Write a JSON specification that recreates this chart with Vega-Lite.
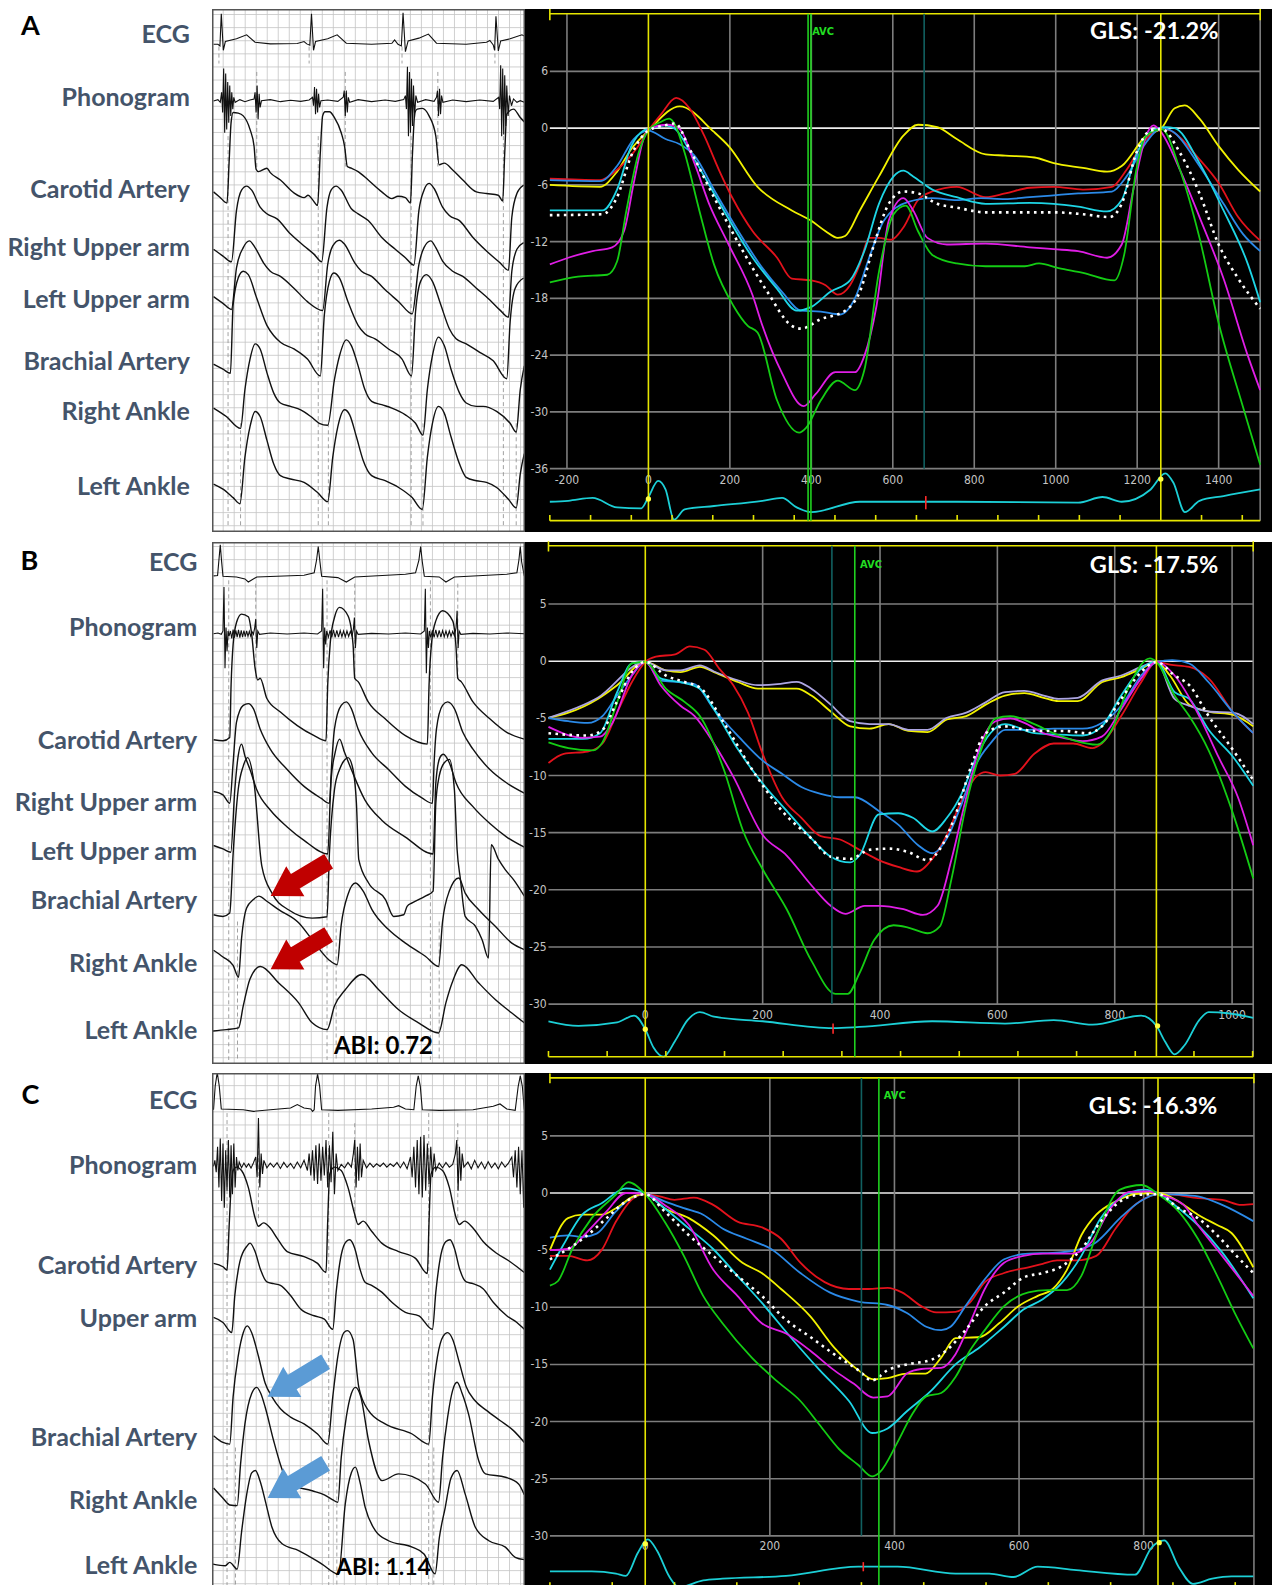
{
"$schema":"https://vega.github.io/schema/vega-lite/v6.json",
"padding":{"top":8,"left":0,"right":0,"bottom":0},
"background":"white",
"config":{"view":{"stroke":null}},
"datasets":{
"s":[
{"p":"A","c":"y","x":-242,"y":-6},{"p":"A","c":"y","x":-119,"y":-6.2},{"p":"A","c":"y","x":-77,"y":-4.6},{"p":"A","c":"y","x":-42,"y":-2.2},{"p":"A","c":"y","x":0,"y":-0.25},{"p":"A","c":"y","x":77,"y":2.3},{"p":"A","c":"y","x":161,"y":-0.4},{"p":"A","c":"y","x":197,"y":-1.9},{"p":"A","c":"y","x":268,"y":-6.2},{"p":"A","c":"y","x":352,"y":-8.7},{"p":"A","c":"y","x":400,"y":-9.8},{"p":"A","c":"y","x":435,"y":-10.9},{"p":"A","c":"y","x":465,"y":-11.6},{"p":"A","c":"y","x":483,"y":-11.4},{"p":"A","c":"y","x":519,"y":-8.7},{"p":"A","c":"y","x":566,"y":-5.1},{"p":"A","c":"y","x":626,"y":-0.8},{"p":"A","c":"y","x":662,"y":0.36},{"p":"A","c":"y","x":709,"y":0.1},{"p":"A","c":"y","x":757,"y":-1.15},{"p":"A","c":"y","x":828,"y":-2.77},{"p":"A","c":"y","x":876,"y":-2.9},{"p":"A","c":"y","x":948,"y":-3.1},{"p":"A","c":"y","x":995,"y":-3.7},{"p":"A","c":"y","x":1067,"y":-4.2},{"p":"A","c":"y","x":1126,"y":-4.6},{"p":"A","c":"y","x":1162,"y":-4},{"p":"A","c":"y","x":1222,"y":-0.8},{"p":"A","c":"y","x":1260,"y":0},{"p":"A","c":"y","x":1292,"y":2.1},{"p":"A","c":"y","x":1317,"y":2.4},{"p":"A","c":"y","x":1353,"y":1},{"p":"A","c":"y","x":1400,"y":-1.9},{"p":"A","c":"y","x":1448,"y":-4.4},{"p":"A","c":"y","x":1502,"y":-6.7},
{"p":"A","c":"r","x":-242,"y":-5.35},{"p":"A","c":"r","x":-119,"y":-5.5},{"p":"A","c":"r","x":-77,"y":-4.4},{"p":"A","c":"r","x":-30,"y":-2.2},{"p":"A","c":"r","x":0,"y":-0.25},{"p":"A","c":"r","x":30,"y":1.4},{"p":"A","c":"r","x":68,"y":3.2},{"p":"A","c":"r","x":101,"y":2.1},{"p":"A","c":"r","x":137,"y":-0.8},{"p":"A","c":"r","x":173,"y":-4.4},{"p":"A","c":"r","x":209,"y":-7.6},{"p":"A","c":"r","x":256,"y":-10.9},{"p":"A","c":"r","x":316,"y":-13.7},{"p":"A","c":"r","x":352,"y":-15.9},{"p":"A","c":"r","x":400,"y":-16.1},{"p":"A","c":"r","x":435,"y":-16.6},{"p":"A","c":"r","x":465,"y":-17.6},{"p":"A","c":"r","x":495,"y":-16.6},{"p":"A","c":"r","x":519,"y":-14.4},{"p":"A","c":"r","x":542,"y":-11.6},{"p":"A","c":"r","x":566,"y":-11.6},{"p":"A","c":"r","x":596,"y":-11.8},{"p":"A","c":"r","x":626,"y":-10.5},{"p":"A","c":"r","x":662,"y":-7.6},{"p":"A","c":"r","x":697,"y":-6.7},{"p":"A","c":"r","x":757,"y":-6.2},{"p":"A","c":"r","x":828,"y":-7.3},{"p":"A","c":"r","x":876,"y":-6.9},{"p":"A","c":"r","x":936,"y":-6.3},{"p":"A","c":"r","x":995,"y":-6.2},{"p":"A","c":"r","x":1067,"y":-6.5},{"p":"A","c":"r","x":1138,"y":-6.2},{"p":"A","c":"r","x":1174,"y":-4.4},{"p":"A","c":"r","x":1222,"y":-1.15},{"p":"A","c":"r","x":1260,"y":0},{"p":"A","c":"r","x":1281,"y":-0.25},{"p":"A","c":"r","x":1353,"y":-3.3},{"p":"A","c":"r","x":1400,"y":-5.8},{"p":"A","c":"r","x":1448,"y":-9.4},{"p":"A","c":"r","x":1502,"y":-11.9},
{"p":"A","c":"b","x":-242,"y":-5.5},{"p":"A","c":"b","x":-119,"y":-5.6},{"p":"A","c":"b","x":-77,"y":-4},{"p":"A","c":"b","x":-36,"y":-1.15},{"p":"A","c":"b","x":0,"y":-0.25},{"p":"A","c":"b","x":42,"y":-1.15},{"p":"A","c":"b","x":77,"y":-1.7},{"p":"A","c":"b","x":113,"y":-2.9},{"p":"A","c":"b","x":161,"y":-6.5},{"p":"A","c":"b","x":221,"y":-10.9},{"p":"A","c":"b","x":280,"y":-14.8},{"p":"A","c":"b","x":328,"y":-17.3},{"p":"A","c":"b","x":375,"y":-19.3},{"p":"A","c":"b","x":423,"y":-19.4},{"p":"A","c":"b","x":471,"y":-19.7},{"p":"A","c":"b","x":507,"y":-18},{"p":"A","c":"b","x":542,"y":-13.7},{"p":"A","c":"b","x":578,"y":-9.8},{"p":"A","c":"b","x":638,"y":-7.8},{"p":"A","c":"b","x":697,"y":-7.4},{"p":"A","c":"b","x":757,"y":-7.6},{"p":"A","c":"b","x":816,"y":-7.4},{"p":"A","c":"b","x":876,"y":-7.5},{"p":"A","c":"b","x":936,"y":-7.3},{"p":"A","c":"b","x":995,"y":-7.1},{"p":"A","c":"b","x":1055,"y":-6.9},{"p":"A","c":"b","x":1138,"y":-6.7},{"p":"A","c":"b","x":1174,"y":-5.1},{"p":"A","c":"b","x":1222,"y":-1.5},{"p":"A","c":"b","x":1260,"y":0},{"p":"A","c":"b","x":1289,"y":-0.4},{"p":"A","c":"b","x":1353,"y":-4},{"p":"A","c":"b","x":1412,"y":-8},{"p":"A","c":"b","x":1460,"y":-11.2},{"p":"A","c":"b","x":1502,"y":-13},
{"p":"A","c":"c","x":-242,"y":-8.7},{"p":"A","c":"c","x":-113,"y":-8.7},{"p":"A","c":"c","x":-77,"y":-6.5},{"p":"A","c":"c","x":-42,"y":-1.9},{"p":"A","c":"c","x":-12,"y":-0.25},{"p":"A","c":"c","x":0,"y":-0.1},{"p":"A","c":"c","x":42,"y":0.3},{"p":"A","c":"c","x":66,"y":-0.1},{"p":"A","c":"c","x":113,"y":-3.3},{"p":"A","c":"c","x":185,"y":-8.7},{"p":"A","c":"c","x":256,"y":-13.7},{"p":"A","c":"c","x":316,"y":-17},{"p":"A","c":"c","x":364,"y":-19.3},{"p":"A","c":"c","x":400,"y":-18.9},{"p":"A","c":"c","x":447,"y":-17.3},{"p":"A","c":"c","x":495,"y":-16.1},{"p":"A","c":"c","x":530,"y":-13},{"p":"A","c":"c","x":566,"y":-8},{"p":"A","c":"c","x":602,"y":-5.1},{"p":"A","c":"c","x":626,"y":-4.5},{"p":"A","c":"c","x":650,"y":-5.1},{"p":"A","c":"c","x":697,"y":-6.5},{"p":"A","c":"c","x":757,"y":-7.3},{"p":"A","c":"c","x":828,"y":-8},{"p":"A","c":"c","x":936,"y":-7.9},{"p":"A","c":"c","x":995,"y":-8},{"p":"A","c":"c","x":1055,"y":-8.3},{"p":"A","c":"c","x":1126,"y":-8.8},{"p":"A","c":"c","x":1162,"y":-7.6},{"p":"A","c":"c","x":1197,"y":-2.9},{"p":"A","c":"c","x":1233,"y":-0.4},{"p":"A","c":"c","x":1269,"y":0.1},{"p":"A","c":"c","x":1292,"y":0},{"p":"A","c":"c","x":1353,"y":-3.7},{"p":"A","c":"c","x":1412,"y":-8.7},{"p":"A","c":"c","x":1472,"y":-14.4},{"p":"A","c":"c","x":1502,"y":-18.4},
{"p":"A","c":"m","x":-242,"y":-14.4},{"p":"A","c":"m","x":-197,"y":-13.7},{"p":"A","c":"m","x":-137,"y":-13},{"p":"A","c":"m","x":-89,"y":-12.6},{"p":"A","c":"m","x":-60,"y":-10.9},{"p":"A","c":"m","x":-36,"y":-5.8},{"p":"A","c":"m","x":-12,"y":-1.15},{"p":"A","c":"m","x":0,"y":-0.1},{"p":"A","c":"m","x":48,"y":0.36},{"p":"A","c":"m","x":77,"y":-0.1},{"p":"A","c":"m","x":113,"y":-3.7},{"p":"A","c":"m","x":149,"y":-8},{"p":"A","c":"m","x":197,"y":-12.3},{"p":"A","c":"m","x":256,"y":-17.7},{"p":"A","c":"m","x":280,"y":-20.9},{"p":"A","c":"m","x":328,"y":-25.9},{"p":"A","c":"m","x":381,"y":-29.4},{"p":"A","c":"m","x":411,"y":-28.1},{"p":"A","c":"m","x":459,"y":-25.8},{"p":"A","c":"m","x":507,"y":-25.8},{"p":"A","c":"m","x":530,"y":-24.1},{"p":"A","c":"m","x":560,"y":-18.8},{"p":"A","c":"m","x":590,"y":-9.8},{"p":"A","c":"m","x":626,"y":-7.4},{"p":"A","c":"m","x":650,"y":-8.7},{"p":"A","c":"m","x":685,"y":-11.6},{"p":"A","c":"m","x":733,"y":-12.3},{"p":"A","c":"m","x":828,"y":-12.2},{"p":"A","c":"m","x":936,"y":-12.6},{"p":"A","c":"m","x":995,"y":-12.8},{"p":"A","c":"m","x":1055,"y":-13},{"p":"A","c":"m","x":1126,"y":-13.7},{"p":"A","c":"m","x":1162,"y":-12.3},{"p":"A","c":"m","x":1192,"y":-6.2},{"p":"A","c":"m","x":1222,"y":-0.8},{"p":"A","c":"m","x":1240,"y":0.3},{"p":"A","c":"m","x":1256,"y":-0.25},{"p":"A","c":"m","x":1305,"y":-4.4},{"p":"A","c":"m","x":1353,"y":-9.4},{"p":"A","c":"m","x":1412,"y":-15.9},{"p":"A","c":"m","x":1472,"y":-24.1},{"p":"A","c":"m","x":1502,"y":-27.7},
{"p":"A","c":"g","x":-242,"y":-16.3},{"p":"A","c":"g","x":-173,"y":-15.7},{"p":"A","c":"g","x":-101,"y":-15.5},{"p":"A","c":"g","x":-77,"y":-14.1},{"p":"A","c":"g","x":-54,"y":-8.7},{"p":"A","c":"g","x":-24,"y":-2.6},{"p":"A","c":"g","x":0,"y":-0.25},{"p":"A","c":"g","x":30,"y":0.65},{"p":"A","c":"g","x":51,"y":1},{"p":"A","c":"g","x":66,"y":0.3},{"p":"A","c":"g","x":89,"y":-2.6},{"p":"A","c":"g","x":125,"y":-8.7},{"p":"A","c":"g","x":161,"y":-14.4},{"p":"A","c":"g","x":209,"y":-18.8},{"p":"A","c":"g","x":244,"y":-20.9},{"p":"A","c":"g","x":268,"y":-21.6},{"p":"A","c":"g","x":316,"y":-28.8},{"p":"A","c":"g","x":370,"y":-32.2},{"p":"A","c":"g","x":387,"y":-31.7},{"p":"A","c":"g","x":423,"y":-28.8},{"p":"A","c":"g","x":465,"y":-26.7},{"p":"A","c":"g","x":507,"y":-27.7},{"p":"A","c":"g","x":530,"y":-25.6},{"p":"A","c":"g","x":566,"y":-15.2},{"p":"A","c":"g","x":602,"y":-9.1},{"p":"A","c":"g","x":632,"y":-8.2},{"p":"A","c":"g","x":662,"y":-10.9},{"p":"A","c":"g","x":697,"y":-13.4},{"p":"A","c":"g","x":757,"y":-14.3},{"p":"A","c":"g","x":828,"y":-14.6},{"p":"A","c":"g","x":924,"y":-14.6},{"p":"A","c":"g","x":959,"y":-14.3},{"p":"A","c":"g","x":1007,"y":-14.8},{"p":"A","c":"g","x":1067,"y":-15.3},{"p":"A","c":"g","x":1144,"y":-16.1},{"p":"A","c":"g","x":1168,"y":-13.4},{"p":"A","c":"g","x":1198,"y":-4.4},{"p":"A","c":"g","x":1222,"y":-0.8},{"p":"A","c":"g","x":1260,"y":-0.1},{"p":"A","c":"g","x":1305,"y":-4.4},{"p":"A","c":"g","x":1353,"y":-11.6},{"p":"A","c":"g","x":1400,"y":-20.6},{"p":"A","c":"g","x":1460,"y":-29.5},{"p":"A","c":"g","x":1502,"y":-35.6},
{"p":"A","c":"w","x":-242,"y":-9.2},{"p":"A","c":"w","x":-113,"y":-9.1},{"p":"A","c":"w","x":-77,"y":-7.3},{"p":"A","c":"w","x":-42,"y":-2.9},{"p":"A","c":"w","x":0,"y":-0.25},{"p":"A","c":"w","x":42,"y":0.3},{"p":"A","c":"w","x":66,"y":0.5},{"p":"A","c":"w","x":101,"y":-2.2},{"p":"A","c":"w","x":161,"y":-7.3},{"p":"A","c":"w","x":232,"y":-13},{"p":"A","c":"w","x":292,"y":-17.3},{"p":"A","c":"w","x":352,"y":-20.9},{"p":"A","c":"w","x":375,"y":-21.2},{"p":"A","c":"w","x":423,"y":-20.2},{"p":"A","c":"w","x":483,"y":-19.3},{"p":"A","c":"w","x":519,"y":-17.3},{"p":"A","c":"w","x":554,"y":-12.3},{"p":"A","c":"w","x":590,"y":-8},{"p":"A","c":"w","x":626,"y":-6.7},{"p":"A","c":"w","x":662,"y":-6.9},{"p":"A","c":"w","x":709,"y":-8},{"p":"A","c":"w","x":757,"y":-8.4},{"p":"A","c":"w","x":828,"y":-8.9},{"p":"A","c":"w","x":924,"y":-8.9},{"p":"A","c":"w","x":995,"y":-8.9},{"p":"A","c":"w","x":1067,"y":-9.1},{"p":"A","c":"w","x":1132,"y":-9.4},{"p":"A","c":"w","x":1162,"y":-8},{"p":"A","c":"w","x":1198,"y":-2.6},{"p":"A","c":"w","x":1233,"y":-0.25},{"p":"A","c":"w","x":1260,"y":-0.1},{"p":"A","c":"w","x":1305,"y":-2.6},{"p":"A","c":"w","x":1353,"y":-6.9},{"p":"A","c":"w","x":1400,"y":-12.3},{"p":"A","c":"w","x":1448,"y":-15.9},{"p":"A","c":"w","x":1502,"y":-19.1},
{"p":"A","c":"e","x":-242,"y":-39.5},{"p":"A","c":"e","x":-197,"y":-39.4},{"p":"A","c":"e","x":-137,"y":-39.1},{"p":"A","c":"e","x":-77,"y":-40.1},{"p":"A","c":"e","x":-18,"y":-40.2},{"p":"A","c":"e","x":0,"y":-39},{"p":"A","c":"e","x":24,"y":-37.3},{"p":"A","c":"e","x":42,"y":-38.2},{"p":"A","c":"e","x":63,"y":-41.4},{"p":"A","c":"e","x":89,"y":-40.3},{"p":"A","c":"e","x":161,"y":-39.95},{"p":"A","c":"e","x":280,"y":-39.4},{"p":"A","c":"e","x":328,"y":-39.1},{"p":"A","c":"e","x":364,"y":-40.1},{"p":"A","c":"e","x":400,"y":-40.6},{"p":"A","c":"e","x":519,"y":-39.5},{"p":"A","c":"e","x":757,"y":-39.5},{"p":"A","c":"e","x":1055,"y":-39.6},{"p":"A","c":"e","x":1115,"y":-39},{"p":"A","c":"e","x":1162,"y":-39.5},{"p":"A","c":"e","x":1233,"y":-38.2},{"p":"A","c":"e","x":1269,"y":-36.5},{"p":"A","c":"e","x":1289,"y":-37.5},{"p":"A","c":"e","x":1317,"y":-40.6},{"p":"A","c":"e","x":1353,"y":-39.4},{"p":"A","c":"e","x":1412,"y":-38.9},{"p":"A","c":"e","x":1502,"y":-38.2},
{"p":"B","c":"y","x":-165,"y":-4.95},{"p":"B","c":"y","x":-131,"y":-4.5},{"p":"B","c":"y","x":-81,"y":-3.3},{"p":"B","c":"y","x":-48,"y":-2.1},{"p":"B","c":"y","x":0,"y":-0.06},{"p":"B","c":"y","x":35,"y":-0.8},{"p":"B","c":"y","x":60,"y":-0.95},{"p":"B","c":"y","x":93,"y":-0.5},{"p":"B","c":"y","x":117,"y":-0.95},{"p":"B","c":"y","x":159,"y":-1.84},{"p":"B","c":"y","x":192,"y":-2.4},{"p":"B","c":"y","x":225,"y":-2.4},{"p":"B","c":"y","x":258,"y":-2.4},{"p":"B","c":"y","x":283,"y":-3},{"p":"B","c":"y","x":316,"y":-4.4},{"p":"B","c":"y","x":349,"y":-5.7},{"p":"B","c":"y","x":382,"y":-5.9},{"p":"B","c":"y","x":415,"y":-5.5},{"p":"B","c":"y","x":448,"y":-6.1},{"p":"B","c":"y","x":481,"y":-6.2},{"p":"B","c":"y","x":514,"y":-5.1},{"p":"B","c":"y","x":547,"y":-4.8},{"p":"B","c":"y","x":580,"y":-3.8},{"p":"B","c":"y","x":613,"y":-3},{"p":"B","c":"y","x":646,"y":-2.8},{"p":"B","c":"y","x":679,"y":-3.2},{"p":"B","c":"y","x":704,"y":-3.5},{"p":"B","c":"y","x":737,"y":-3.5},{"p":"B","c":"y","x":778,"y":-1.84},{"p":"B","c":"y","x":811,"y":-1.4},{"p":"B","c":"y","x":845,"y":-0.65},{"p":"B","c":"y","x":871,"y":-0.06},{"p":"B","c":"y","x":894,"y":-1.25},{"p":"B","c":"y","x":927,"y":-3.8},{"p":"B","c":"y","x":960,"y":-4.4},{"p":"B","c":"y","x":1002,"y":-4.7},{"p":"B","c":"y","x":1036,"y":-5.7},
{"p":"B","c":"l","x":-165,"y":-4.95},{"p":"B","c":"l","x":-81,"y":-3.2},{"p":"B","c":"l","x":0,"y":-0.06},{"p":"B","c":"l","x":35,"y":-0.8},{"p":"B","c":"l","x":60,"y":-0.8},{"p":"B","c":"l","x":93,"y":-0.36},{"p":"B","c":"l","x":117,"y":-0.9},{"p":"B","c":"l","x":159,"y":-1.7},{"p":"B","c":"l","x":192,"y":-2.1},{"p":"B","c":"l","x":225,"y":-2},{"p":"B","c":"l","x":258,"y":-1.8},{"p":"B","c":"l","x":283,"y":-2.4},{"p":"B","c":"l","x":316,"y":-3.8},{"p":"B","c":"l","x":349,"y":-5.25},{"p":"B","c":"l","x":382,"y":-5.5},{"p":"B","c":"l","x":415,"y":-5.5},{"p":"B","c":"l","x":448,"y":-6},{"p":"B","c":"l","x":481,"y":-6},{"p":"B","c":"l","x":514,"y":-4.95},{"p":"B","c":"l","x":547,"y":-4.5},{"p":"B","c":"l","x":580,"y":-3.6},{"p":"B","c":"l","x":613,"y":-2.7},{"p":"B","c":"l","x":646,"y":-2.6},{"p":"B","c":"l","x":679,"y":-3},{"p":"B","c":"l","x":704,"y":-3.3},{"p":"B","c":"l","x":737,"y":-3.2},{"p":"B","c":"l","x":778,"y":-1.7},{"p":"B","c":"l","x":811,"y":-1.25},{"p":"B","c":"l","x":845,"y":-0.5},{"p":"B","c":"l","x":871,"y":-0.06},{"p":"B","c":"l","x":902,"y":-3.3},{"p":"B","c":"l","x":927,"y":-3.9},{"p":"B","c":"l","x":960,"y":-4.4},{"p":"B","c":"l","x":1002,"y":-4.5},{"p":"B","c":"l","x":1036,"y":-5.5},
{"p":"B","c":"r","x":-165,"y":-8.9},{"p":"B","c":"r","x":-139,"y":-8.1},{"p":"B","c":"r","x":-98,"y":-7.9},{"p":"B","c":"r","x":-73,"y":-7.2},{"p":"B","c":"r","x":-48,"y":-4.5},{"p":"B","c":"r","x":-23,"y":-1.84},{"p":"B","c":"r","x":0,"y":-0.06},{"p":"B","c":"r","x":18,"y":0.4},{"p":"B","c":"r","x":51,"y":0.6},{"p":"B","c":"r","x":76,"y":1.3},{"p":"B","c":"r","x":101,"y":1},{"p":"B","c":"r","x":126,"y":-0.65},{"p":"B","c":"r","x":150,"y":-2.1},{"p":"B","c":"r","x":175,"y":-4.5},{"p":"B","c":"r","x":200,"y":-8.1},{"p":"B","c":"r","x":233,"y":-11.9},{"p":"B","c":"r","x":266,"y":-13.7},{"p":"B","c":"r","x":299,"y":-15.3},{"p":"B","c":"r","x":332,"y":-15.6},{"p":"B","c":"r","x":365,"y":-16.5},{"p":"B","c":"r","x":398,"y":-17.4},{"p":"B","c":"r","x":431,"y":-18},{"p":"B","c":"r","x":463,"y":-18.4},{"p":"B","c":"r","x":489,"y":-17.3},{"p":"B","c":"r","x":514,"y":-15.2},{"p":"B","c":"r","x":539,"y":-12.2},{"p":"B","c":"r","x":564,"y":-10.1},{"p":"B","c":"r","x":580,"y":-9.7},{"p":"B","c":"r","x":605,"y":-10},{"p":"B","c":"r","x":630,"y":-9.85},{"p":"B","c":"r","x":663,"y":-8.1},{"p":"B","c":"r","x":696,"y":-7.2},{"p":"B","c":"r","x":729,"y":-7.2},{"p":"B","c":"r","x":762,"y":-7.6},{"p":"B","c":"r","x":778,"y":-7.2},{"p":"B","c":"r","x":811,"y":-4.8},{"p":"B","c":"r","x":845,"y":-1.84},{"p":"B","c":"r","x":871,"y":-0.06},{"p":"B","c":"r","x":894,"y":-0.3},{"p":"B","c":"r","x":927,"y":-0.5},{"p":"B","c":"r","x":960,"y":-1.5},{"p":"B","c":"r","x":1002,"y":-4.5},{"p":"B","c":"r","x":1036,"y":-6.3},
{"p":"B","c":"b","x":-165,"y":-4.95},{"p":"B","c":"b","x":-131,"y":-5.25},{"p":"B","c":"b","x":-98,"y":-5.4},{"p":"B","c":"b","x":-73,"y":-4.8},{"p":"B","c":"b","x":-48,"y":-3},{"p":"B","c":"b","x":-23,"y":-1.25},{"p":"B","c":"b","x":0,"y":-0.06},{"p":"B","c":"b","x":26,"y":-1.7},{"p":"B","c":"b","x":60,"y":-1.84},{"p":"B","c":"b","x":84,"y":-2},{"p":"B","c":"b","x":117,"y":-4.2},{"p":"B","c":"b","x":159,"y":-6.6},{"p":"B","c":"b","x":200,"y":-8.7},{"p":"B","c":"b","x":233,"y":-9.85},{"p":"B","c":"b","x":266,"y":-11},{"p":"B","c":"b","x":299,"y":-11.6},{"p":"B","c":"b","x":332,"y":-11.9},{"p":"B","c":"b","x":357,"y":-11.9},{"p":"B","c":"b","x":398,"y":-13.1},{"p":"B","c":"b","x":431,"y":-14.3},{"p":"B","c":"b","x":465,"y":-16.1},{"p":"B","c":"b","x":489,"y":-16.8},{"p":"B","c":"b","x":514,"y":-15.5},{"p":"B","c":"b","x":539,"y":-12.5},{"p":"B","c":"b","x":564,"y":-9},{"p":"B","c":"b","x":588,"y":-7.2},{"p":"B","c":"b","x":613,"y":-6},{"p":"B","c":"b","x":654,"y":-6},{"p":"B","c":"b","x":696,"y":-5.9},{"p":"B","c":"b","x":745,"y":-5.9},{"p":"B","c":"b","x":778,"y":-5.4},{"p":"B","c":"b","x":811,"y":-3.9},{"p":"B","c":"b","x":845,"y":-1.25},{"p":"B","c":"b","x":871,"y":-0.1},{"p":"B","c":"b","x":898,"y":0.1},{"p":"B","c":"b","x":927,"y":-0.2},{"p":"B","c":"b","x":960,"y":-1.84},{"p":"B","c":"b","x":1002,"y":-4.5},{"p":"B","c":"b","x":1036,"y":-6.3},
{"p":"B","c":"c","x":-165,"y":-6.8},{"p":"B","c":"c","x":-106,"y":-6.8},{"p":"B","c":"c","x":-77,"y":-6.3},{"p":"B","c":"c","x":-48,"y":-2.7},{"p":"B","c":"c","x":-23,"y":-0.2},{"p":"B","c":"c","x":0,"y":-0.06},{"p":"B","c":"c","x":26,"y":-1.5},{"p":"B","c":"c","x":60,"y":-1.84},{"p":"B","c":"c","x":93,"y":-2.4},{"p":"B","c":"c","x":117,"y":-4.2},{"p":"B","c":"c","x":159,"y":-7.8},{"p":"B","c":"c","x":200,"y":-10.7},{"p":"B","c":"c","x":241,"y":-13.1},{"p":"B","c":"c","x":283,"y":-15.5},{"p":"B","c":"c","x":316,"y":-17.1},{"p":"B","c":"c","x":349,"y":-17.6},{"p":"B","c":"c","x":365,"y":-17},{"p":"B","c":"c","x":398,"y":-13.4},{"p":"B","c":"c","x":431,"y":-13.3},{"p":"B","c":"c","x":456,"y":-13.7},{"p":"B","c":"c","x":489,"y":-14.9},{"p":"B","c":"c","x":514,"y":-13.7},{"p":"B","c":"c","x":539,"y":-11.6},{"p":"B","c":"c","x":564,"y":-8.4},{"p":"B","c":"c","x":588,"y":-6.3},{"p":"B","c":"c","x":613,"y":-5.5},{"p":"B","c":"c","x":663,"y":-6.3},{"p":"B","c":"c","x":696,"y":-6.4},{"p":"B","c":"c","x":745,"y":-6.5},{"p":"B","c":"c","x":778,"y":-5.7},{"p":"B","c":"c","x":811,"y":-3},{"p":"B","c":"c","x":845,"y":-0.65},{"p":"B","c":"c","x":871,"y":-0.06},{"p":"B","c":"c","x":902,"y":-2.7},{"p":"B","c":"c","x":927,"y":-3.3},{"p":"B","c":"c","x":960,"y":-6},{"p":"B","c":"c","x":1002,"y":-8.4},{"p":"B","c":"c","x":1036,"y":-10.9},
{"p":"B","c":"m","x":-165,"y":-5.75},{"p":"B","c":"m","x":-106,"y":-6.7},{"p":"B","c":"m","x":-77,"y":-6.6},{"p":"B","c":"m","x":-56,"y":-5.4},{"p":"B","c":"m","x":-23,"y":-1.25},{"p":"B","c":"m","x":0,"y":-0.06},{"p":"B","c":"m","x":26,"y":-2.1},{"p":"B","c":"m","x":60,"y":-3.9},{"p":"B","c":"m","x":84,"y":-4.8},{"p":"B","c":"m","x":117,"y":-7.2},{"p":"B","c":"m","x":150,"y":-10.1},{"p":"B","c":"m","x":200,"y":-15.2},{"p":"B","c":"m","x":241,"y":-17},{"p":"B","c":"m","x":283,"y":-19.6},{"p":"B","c":"m","x":316,"y":-21.4},{"p":"B","c":"m","x":341,"y":-22.1},{"p":"B","c":"m","x":374,"y":-21.4},{"p":"B","c":"m","x":398,"y":-21.4},{"p":"B","c":"m","x":440,"y":-21.7},{"p":"B","c":"m","x":473,"y":-22.2},{"p":"B","c":"m","x":498,"y":-21.4},{"p":"B","c":"m","x":522,"y":-17.3},{"p":"B","c":"m","x":547,"y":-11.9},{"p":"B","c":"m","x":572,"y":-7.2},{"p":"B","c":"m","x":597,"y":-5.25},{"p":"B","c":"m","x":622,"y":-5},{"p":"B","c":"m","x":646,"y":-5.4},{"p":"B","c":"m","x":679,"y":-6.3},{"p":"B","c":"m","x":712,"y":-6.7},{"p":"B","c":"m","x":745,"y":-7},{"p":"B","c":"m","x":778,"y":-6.6},{"p":"B","c":"m","x":811,"y":-4.2},{"p":"B","c":"m","x":845,"y":-1.5},{"p":"B","c":"m","x":871,"y":-0.06},{"p":"B","c":"m","x":902,"y":-1.25},{"p":"B","c":"m","x":944,"y":-4.8},{"p":"B","c":"m","x":977,"y":-8.4},{"p":"B","c":"m","x":1010,"y":-11.9},{"p":"B","c":"m","x":1036,"y":-16.1},
{"p":"B","c":"g","x":-165,"y":-7.1},{"p":"B","c":"g","x":-131,"y":-7.6},{"p":"B","c":"g","x":-89,"y":-7.8},{"p":"B","c":"g","x":-73,"y":-7.1},{"p":"B","c":"g","x":-48,"y":-3.6},{"p":"B","c":"g","x":-23,"y":-0.2},{"p":"B","c":"g","x":0,"y":-0.06},{"p":"B","c":"g","x":35,"y":-2.4},{"p":"B","c":"g","x":68,"y":-3.6},{"p":"B","c":"g","x":93,"y":-4.8},{"p":"B","c":"g","x":134,"y":-9.5},{"p":"B","c":"g","x":167,"y":-14.9},{"p":"B","c":"g","x":200,"y":-18.2},{"p":"B","c":"g","x":241,"y":-21.7},{"p":"B","c":"g","x":283,"y":-26.2},{"p":"B","c":"g","x":324,"y":-29.1},{"p":"B","c":"g","x":345,"y":-29.1},{"p":"B","c":"g","x":365,"y":-27.3},{"p":"B","c":"g","x":390,"y":-24.4},{"p":"B","c":"g","x":423,"y":-23.1},{"p":"B","c":"g","x":448,"y":-23.3},{"p":"B","c":"g","x":481,"y":-23.8},{"p":"B","c":"g","x":502,"y":-23.2},{"p":"B","c":"g","x":522,"y":-19},{"p":"B","c":"g","x":547,"y":-12.5},{"p":"B","c":"g","x":572,"y":-7.8},{"p":"B","c":"g","x":597,"y":-5},{"p":"B","c":"g","x":622,"y":-4.8},{"p":"B","c":"g","x":663,"y":-5.5},{"p":"B","c":"g","x":696,"y":-6.3},{"p":"B","c":"g","x":729,"y":-6.9},{"p":"B","c":"g","x":770,"y":-7.3},{"p":"B","c":"g","x":795,"y":-6},{"p":"B","c":"g","x":820,"y":-2.7},{"p":"B","c":"g","x":860,"y":0.24},{"p":"B","c":"g","x":871,"y":-0.06},{"p":"B","c":"g","x":902,"y":-3},{"p":"B","c":"g","x":927,"y":-4.8},{"p":"B","c":"g","x":960,"y":-7.8},{"p":"B","c":"g","x":1002,"y":-13.4},{"p":"B","c":"g","x":1036,"y":-19},
{"p":"B","c":"w","x":-165,"y":-6.3},{"p":"B","c":"w","x":-98,"y":-6.5},{"p":"B","c":"w","x":-73,"y":-6},{"p":"B","c":"w","x":-48,"y":-3.5},{"p":"B","c":"w","x":-23,"y":-0.95},{"p":"B","c":"w","x":0,"y":-0.06},{"p":"B","c":"w","x":35,"y":-1.25},{"p":"B","c":"w","x":68,"y":-1.84},{"p":"B","c":"w","x":93,"y":-2.3},{"p":"B","c":"w","x":134,"y":-5.4},{"p":"B","c":"w","x":183,"y":-9.55},{"p":"B","c":"w","x":233,"y":-13.1},{"p":"B","c":"w","x":283,"y":-15.5},{"p":"B","c":"w","x":316,"y":-17.1},{"p":"B","c":"w","x":349,"y":-17.3},{"p":"B","c":"w","x":382,"y":-16.5},{"p":"B","c":"w","x":415,"y":-16.4},{"p":"B","c":"w","x":448,"y":-16.7},{"p":"B","c":"w","x":481,"y":-17.4},{"p":"B","c":"w","x":506,"y":-16.1},{"p":"B","c":"w","x":531,"y":-13.1},{"p":"B","c":"w","x":555,"y":-9.25},{"p":"B","c":"w","x":580,"y":-6.3},{"p":"B","c":"w","x":613,"y":-5.7},{"p":"B","c":"w","x":663,"y":-6.1},{"p":"B","c":"w","x":712,"y":-6.1},{"p":"B","c":"w","x":754,"y":-6.3},{"p":"B","c":"w","x":778,"y":-5.7},{"p":"B","c":"w","x":811,"y":-3.3},{"p":"B","c":"w","x":845,"y":-0.95},{"p":"B","c":"w","x":871,"y":-0.06},{"p":"B","c":"w","x":902,"y":-1.25},{"p":"B","c":"w","x":927,"y":-2.1},{"p":"B","c":"w","x":960,"y":-4.8},{"p":"B","c":"w","x":1002,"y":-7.8},{"p":"B","c":"w","x":1036,"y":-10.4},
{"p":"B","c":"e","x":-165,"y":-31.5},{"p":"B","c":"e","x":-114,"y":-31.9},{"p":"B","c":"e","x":-48,"y":-31.6},{"p":"B","c":"e","x":-19,"y":-31},{"p":"B","c":"e","x":0,"y":-32.2},{"p":"B","c":"e","x":14,"y":-33.8},{"p":"B","c":"e","x":31,"y":-34.6},{"p":"B","c":"e","x":51,"y":-33.2},{"p":"B","c":"e","x":72,"y":-31.4},{"p":"B","c":"e","x":93,"y":-30.7},{"p":"B","c":"e","x":117,"y":-31.1},{"p":"B","c":"e","x":200,"y":-31.5},{"p":"B","c":"e","x":320,"y":-32.1},{"p":"B","c":"e","x":365,"y":-32},{"p":"B","c":"e","x":489,"y":-31.5},{"p":"B","c":"e","x":613,"y":-31.7},{"p":"B","c":"e","x":696,"y":-31.4},{"p":"B","c":"e","x":762,"y":-31.8},{"p":"B","c":"e","x":845,"y":-31},{"p":"B","c":"e","x":871,"y":-31.9},{"p":"B","c":"e","x":886,"y":-33.3},{"p":"B","c":"e","x":902,"y":-34.4},{"p":"B","c":"e","x":919,"y":-33.6},{"p":"B","c":"e","x":944,"y":-31.4},{"p":"B","c":"e","x":960,"y":-30.7},{"p":"B","c":"e","x":993,"y":-30.8},{"p":"B","c":"e","x":1036,"y":-31.2},
{"p":"C","c":"r","x":-153,"y":-5.5},{"p":"C","c":"r","x":-124,"y":-5.5},{"p":"C","c":"r","x":-93,"y":-5.9},{"p":"C","c":"r","x":-70,"y":-5},{"p":"C","c":"r","x":-47,"y":-2.5},{"p":"C","c":"r","x":-19,"y":-0.45},{"p":"C","c":"r","x":0,"y":-0.1},{"p":"C","c":"r","x":23,"y":-0.3},{"p":"C","c":"r","x":47,"y":-0.6},{"p":"C","c":"r","x":78,"y":-0.4},{"p":"C","c":"r","x":109,"y":-1.04},{"p":"C","c":"r","x":148,"y":-2.5},{"p":"C","c":"r","x":187,"y":-3},{"p":"C","c":"r","x":218,"y":-4},{"p":"C","c":"r","x":249,"y":-6.1},{"p":"C","c":"r","x":288,"y":-7.8},{"p":"C","c":"r","x":327,"y":-8.4},{"p":"C","c":"r","x":358,"y":-8.4},{"p":"C","c":"r","x":389,"y":-8.3},{"p":"C","c":"r","x":412,"y":-8.7},{"p":"C","c":"r","x":443,"y":-9.9},{"p":"C","c":"r","x":467,"y":-10.45},{"p":"C","c":"r","x":498,"y":-10.4},{"p":"C","c":"r","x":521,"y":-9.6},{"p":"C","c":"r","x":545,"y":-7.8},{"p":"C","c":"r","x":576,"y":-7},{"p":"C","c":"r","x":615,"y":-6.5},{"p":"C","c":"r","x":638,"y":-6.2},{"p":"C","c":"r","x":661,"y":-5.9},{"p":"C","c":"r","x":692,"y":-5.9},{"p":"C","c":"r","x":724,"y":-5.5},{"p":"C","c":"r","x":755,"y":-3.1},{"p":"C","c":"r","x":786,"y":-1.04},{"p":"C","c":"r","x":809,"y":-0.3},{"p":"C","c":"r","x":823,"y":-0.1},{"p":"C","c":"r","x":848,"y":-0.15},{"p":"C","c":"r","x":887,"y":-0.45},{"p":"C","c":"r","x":926,"y":-0.6},{"p":"C","c":"r","x":957,"y":-1.04},{"p":"C","c":"r","x":976,"y":-0.98},
{"p":"C","c":"b","x":-153,"y":-3.9},{"p":"C","c":"b","x":-124,"y":-3.7},{"p":"C","c":"b","x":-101,"y":-3.85},{"p":"C","c":"b","x":-78,"y":-3.55},{"p":"C","c":"b","x":-47,"y":-1.6},{"p":"C","c":"b","x":-23,"y":-0.45},{"p":"C","c":"b","x":0,"y":-0.1},{"p":"C","c":"b","x":31,"y":-0.74},{"p":"C","c":"b","x":62,"y":-1.33},{"p":"C","c":"b","x":93,"y":-1.9},{"p":"C","c":"b","x":124,"y":-3.1},{"p":"C","c":"b","x":163,"y":-4},{"p":"C","c":"b","x":202,"y":-4.9},{"p":"C","c":"b","x":249,"y":-7},{"p":"C","c":"b","x":296,"y":-8.7},{"p":"C","c":"b","x":342,"y":-9.5},{"p":"C","c":"b","x":389,"y":-9.8},{"p":"C","c":"b","x":420,"y":-10.5},{"p":"C","c":"b","x":451,"y":-11.7},{"p":"C","c":"b","x":475,"y":-12},{"p":"C","c":"b","x":490,"y":-11.7},{"p":"C","c":"b","x":514,"y":-9.9},{"p":"C","c":"b","x":545,"y":-7.55},{"p":"C","c":"b","x":576,"y":-5.8},{"p":"C","c":"b","x":615,"y":-5.3},{"p":"C","c":"b","x":654,"y":-5.24},{"p":"C","c":"b","x":692,"y":-5},{"p":"C","c":"b","x":724,"y":-4.3},{"p":"C","c":"b","x":762,"y":-2.2},{"p":"C","c":"b","x":794,"y":-0.74},{"p":"C","c":"b","x":823,"y":-0.1},{"p":"C","c":"b","x":856,"y":-0.15},{"p":"C","c":"b","x":887,"y":-0.3},{"p":"C","c":"b","x":926,"y":-1.04},{"p":"C","c":"b","x":976,"y":-2.46},
{"p":"C","c":"y","x":-153,"y":-5},{"p":"C","c":"y","x":-124,"y":-2.2},{"p":"C","c":"y","x":-101,"y":-1.9},{"p":"C","c":"y","x":-70,"y":-1.9},{"p":"C","c":"y","x":-47,"y":-1.33},{"p":"C","c":"y","x":-19,"y":-0.3},{"p":"C","c":"y","x":0,"y":-0.1},{"p":"C","c":"y","x":31,"y":-1.33},{"p":"C","c":"y","x":70,"y":-2.2},{"p":"C","c":"y","x":109,"y":-3.7},{"p":"C","c":"y","x":156,"y":-6.1},{"p":"C","c":"y","x":187,"y":-7},{"p":"C","c":"y","x":218,"y":-8.4},{"p":"C","c":"y","x":265,"y":-10.8},{"p":"C","c":"y","x":303,"y":-13.5},{"p":"C","c":"y","x":342,"y":-15.5},{"p":"C","c":"y","x":366,"y":-16.3},{"p":"C","c":"y","x":389,"y":-16.2},{"p":"C","c":"y","x":420,"y":-15.8},{"p":"C","c":"y","x":450,"y":-15.8},{"p":"C","c":"y","x":475,"y":-14.4},{"p":"C","c":"y","x":498,"y":-12.7},{"p":"C","c":"y","x":537,"y":-12.6},{"p":"C","c":"y","x":568,"y":-11.4},{"p":"C","c":"y","x":599,"y":-9.9},{"p":"C","c":"y","x":630,"y":-9},{"p":"C","c":"y","x":654,"y":-8.4},{"p":"C","c":"y","x":677,"y":-6.7},{"p":"C","c":"y","x":700,"y":-3.7},{"p":"C","c":"y","x":724,"y":-1.9},{"p":"C","c":"y","x":755,"y":-0.74},{"p":"C","c":"y","x":786,"y":-0.1},{"p":"C","c":"y","x":823,"y":0},{"p":"C","c":"y","x":856,"y":-0.74},{"p":"C","c":"y","x":887,"y":-1.9},{"p":"C","c":"y","x":918,"y":-2.8},{"p":"C","c":"y","x":941,"y":-3.5},{"p":"C","c":"y","x":976,"y":-6.5},
{"p":"C","c":"c","x":-153,"y":-6.7},{"p":"C","c":"c","x":-132,"y":-4.6},{"p":"C","c":"c","x":-101,"y":-1.9},{"p":"C","c":"c","x":-70,"y":-0.9},{"p":"C","c":"c","x":-31,"y":0.4},{"p":"C","c":"c","x":0,"y":-0.05},{"p":"C","c":"c","x":31,"y":-1.33},{"p":"C","c":"c","x":70,"y":-3.1},{"p":"C","c":"c","x":109,"y":-4.9},{"p":"C","c":"c","x":148,"y":-7.25},{"p":"C","c":"c","x":187,"y":-9.6},{"p":"C","c":"c","x":233,"y":-12.6},{"p":"C","c":"c","x":280,"y":-15.5},{"p":"C","c":"c","x":327,"y":-18.2},{"p":"C","c":"c","x":364,"y":-21},{"p":"C","c":"c","x":389,"y":-20.6},{"p":"C","c":"c","x":420,"y":-19.1},{"p":"C","c":"c","x":459,"y":-17.3},{"p":"C","c":"c","x":498,"y":-15},{"p":"C","c":"c","x":537,"y":-13.5},{"p":"C","c":"c","x":576,"y":-11.7},{"p":"C","c":"c","x":607,"y":-10.2},{"p":"C","c":"c","x":638,"y":-9.3},{"p":"C","c":"c","x":669,"y":-7.85},{"p":"C","c":"c","x":700,"y":-5.5},{"p":"C","c":"c","x":731,"y":-2.2},{"p":"C","c":"c","x":762,"y":-0.45},{"p":"C","c":"c","x":801,"y":0.3},{"p":"C","c":"c","x":823,"y":0},{"p":"C","c":"c","x":856,"y":-1.33},{"p":"C","c":"c","x":887,"y":-2.8},{"p":"C","c":"c","x":926,"y":-5.2},{"p":"C","c":"c","x":976,"y":-9.2},
{"p":"C","c":"m","x":-153,"y":-5},{"p":"C","c":"m","x":-124,"y":-4.9},{"p":"C","c":"m","x":-93,"y":-3.4},{"p":"C","c":"m","x":-62,"y":-1.6},{"p":"C","c":"m","x":-31,"y":0},{"p":"C","c":"m","x":0,"y":-0.1},{"p":"C","c":"m","x":31,"y":-1.04},{"p":"C","c":"m","x":70,"y":-2.8},{"p":"C","c":"m","x":109,"y":-6.7},{"p":"C","c":"m","x":148,"y":-9},{"p":"C","c":"m","x":187,"y":-11.4},{"p":"C","c":"m","x":226,"y":-12.3},{"p":"C","c":"m","x":265,"y":-13.8},{"p":"C","c":"m","x":303,"y":-15.5},{"p":"C","c":"m","x":335,"y":-16.7},{"p":"C","c":"m","x":366,"y":-17.9},{"p":"C","c":"m","x":389,"y":-17.8},{"p":"C","c":"m","x":420,"y":-15.8},{"p":"C","c":"m","x":443,"y":-15.4},{"p":"C","c":"m","x":475,"y":-15.3},{"p":"C","c":"m","x":498,"y":-14.1},{"p":"C","c":"m","x":521,"y":-11.4},{"p":"C","c":"m","x":545,"y":-8.4},{"p":"C","c":"m","x":576,"y":-6.1},{"p":"C","c":"m","x":607,"y":-5.5},{"p":"C","c":"m","x":638,"y":-5.3},{"p":"C","c":"m","x":685,"y":-5.3},{"p":"C","c":"m","x":716,"y":-4.3},{"p":"C","c":"m","x":747,"y":-1.33},{"p":"C","c":"m","x":778,"y":0.1},{"p":"C","c":"m","x":809,"y":0.15},{"p":"C","c":"m","x":823,"y":-0.1},{"p":"C","c":"m","x":864,"y":-1.04},{"p":"C","c":"m","x":887,"y":-2.8},{"p":"C","c":"m","x":926,"y":-5.5},{"p":"C","c":"m","x":976,"y":-9},
{"p":"C","c":"g","x":-153,"y":-8.1},{"p":"C","c":"g","x":-140,"y":-7.7},{"p":"C","c":"g","x":-117,"y":-4.9},{"p":"C","c":"g","x":-86,"y":-2.2},{"p":"C","c":"g","x":-47,"y":-0.15},{"p":"C","c":"g","x":-27,"y":0.95},{"p":"C","c":"g","x":0,"y":-0.1},{"p":"C","c":"g","x":31,"y":-2.5},{"p":"C","c":"g","x":62,"y":-5.5},{"p":"C","c":"g","x":93,"y":-9},{"p":"C","c":"g","x":124,"y":-11.4},{"p":"C","c":"g","x":171,"y":-14.4},{"p":"C","c":"g","x":210,"y":-16.4},{"p":"C","c":"g","x":249,"y":-18.2},{"p":"C","c":"g","x":280,"y":-20.3},{"p":"C","c":"g","x":311,"y":-22.4},{"p":"C","c":"g","x":342,"y":-23.8},{"p":"C","c":"g","x":364,"y":-24.8},{"p":"C","c":"g","x":377,"y":-24.4},{"p":"C","c":"g","x":405,"y":-21.8},{"p":"C","c":"g","x":428,"y":-19.4},{"p":"C","c":"g","x":451,"y":-17.8},{"p":"C","c":"g","x":475,"y":-17.5},{"p":"C","c":"g","x":498,"y":-16.1},{"p":"C","c":"g","x":521,"y":-13.8},{"p":"C","c":"g","x":545,"y":-12},{"p":"C","c":"g","x":576,"y":-9.9},{"p":"C","c":"g","x":615,"y":-8.7},{"p":"C","c":"g","x":646,"y":-8.5},{"p":"C","c":"g","x":677,"y":-8.5},{"p":"C","c":"g","x":700,"y":-7.25},{"p":"C","c":"g","x":724,"y":-3.7},{"p":"C","c":"g","x":762,"y":0.3},{"p":"C","c":"g","x":797,"y":0.7},{"p":"C","c":"g","x":823,"y":-0.1},{"p":"C","c":"g","x":856,"y":-1.6},{"p":"C","c":"g","x":887,"y":-4},{"p":"C","c":"g","x":918,"y":-7.25},{"p":"C","c":"g","x":949,"y":-10.8},{"p":"C","c":"g","x":976,"y":-13.6},
{"p":"C","c":"w","x":-153,"y":-5.8},{"p":"C","c":"w","x":-124,"y":-4.9},{"p":"C","c":"w","x":-93,"y":-3.7},{"p":"C","c":"w","x":-62,"y":-2.2},{"p":"C","c":"w","x":-31,"y":-0.74},{"p":"C","c":"w","x":0,"y":-0.1},{"p":"C","c":"w","x":31,"y":-1.6},{"p":"C","c":"w","x":70,"y":-3.7},{"p":"C","c":"w","x":109,"y":-5.5},{"p":"C","c":"w","x":148,"y":-7.25},{"p":"C","c":"w","x":187,"y":-9},{"p":"C","c":"w","x":226,"y":-11.1},{"p":"C","c":"w","x":265,"y":-12.6},{"p":"C","c":"w","x":303,"y":-14.1},{"p":"C","c":"w","x":342,"y":-15.5},{"p":"C","c":"w","x":364,"y":-16.4},{"p":"C","c":"w","x":389,"y":-15.5},{"p":"C","c":"w","x":420,"y":-15},{"p":"C","c":"w","x":459,"y":-14.6},{"p":"C","c":"w","x":483,"y":-13.8},{"p":"C","c":"w","x":514,"y":-12},{"p":"C","c":"w","x":545,"y":-9.9},{"p":"C","c":"w","x":576,"y":-8.7},{"p":"C","c":"w","x":607,"y":-7.4},{"p":"C","c":"w","x":638,"y":-7},{"p":"C","c":"w","x":669,"y":-6.4},{"p":"C","c":"w","x":700,"y":-4.9},{"p":"C","c":"w","x":731,"y":-2.5},{"p":"C","c":"w","x":762,"y":-0.74},{"p":"C","c":"w","x":794,"y":-0.15},{"p":"C","c":"w","x":823,"y":-0.1},{"p":"C","c":"w","x":856,"y":-1.33},{"p":"C","c":"w","x":887,"y":-2.2},{"p":"C","c":"w","x":918,"y":-3.7},{"p":"C","c":"w","x":949,"y":-5.5},{"p":"C","c":"w","x":976,"y":-7},
{"p":"C","c":"e","x":-153,"y":-33.1},{"p":"C","c":"e","x":-86,"y":-33.1},{"p":"C","c":"e","x":-47,"y":-33.3},{"p":"C","c":"e","x":-31,"y":-33.5},{"p":"C","c":"e","x":-12,"y":-31.5},{"p":"C","c":"e","x":4,"y":-30.3},{"p":"C","c":"e","x":19,"y":-31.3},{"p":"C","c":"e","x":39,"y":-33.6},{"p":"C","c":"e","x":54,"y":-34.5},{"p":"C","c":"e","x":93,"y":-33.9},{"p":"C","c":"e","x":124,"y":-33.75},{"p":"C","c":"e","x":226,"y":-33.5},{"p":"C","c":"e","x":342,"y":-32.7},{"p":"C","c":"e","x":405,"y":-32.7},{"p":"C","c":"e","x":498,"y":-33.3},{"p":"C","c":"e","x":552,"y":-33.3},{"p":"C","c":"e","x":591,"y":-33.6},{"p":"C","c":"e","x":630,"y":-32.7},{"p":"C","c":"e","x":692,"y":-33},{"p":"C","c":"e","x":786,"y":-33.4},{"p":"C","c":"e","x":813,"y":-31},{"p":"C","c":"e","x":833,"y":-30.4},{"p":"C","c":"e","x":856,"y":-32.7},{"p":"C","c":"e","x":879,"y":-34.2},{"p":"C","c":"e","x":910,"y":-33.75},{"p":"C","c":"e","x":941,"y":-33.55},{"p":"C","c":"e","x":976,"y":-33.55}
],
"w":[
{"p":"A","c":"e","x":632,"y":128},{"p":"A","c":"e","x":645,"y":128},{"p":"A","c":"e","x":651,"y":133},{"p":"A","c":"e","x":655,"y":38},{"p":"A","c":"e","x":661,"y":146},{"p":"A","c":"e","x":667,"y":120},{"p":"A","c":"e","x":700,"y":112},{"p":"A","c":"e","x":730,"y":100},{"p":"A","c":"e","x":755,"y":122},{"p":"A","c":"e","x":800,"y":127},{"p":"A","c":"e","x":880,"y":126},{"p":"A","c":"e","x":900,"y":120},{"p":"A","c":"e","x":908,"y":127},{"p":"A","c":"e","x":917,"y":131},{"p":"A","c":"e","x":922,"y":38},{"p":"A","c":"e","x":928,"y":146},{"p":"A","c":"e","x":934,"y":120},{"p":"A","c":"e","x":970,"y":112},{"p":"A","c":"e","x":998,"y":100},{"p":"A","c":"e","x":1025,"y":125},{"p":"A","c":"e","x":1100,"y":128},{"p":"A","c":"e","x":1160,"y":125},{"p":"A","c":"e","x":1168,"y":115},{"p":"A","c":"e","x":1178,"y":128},{"p":"A","c":"e","x":1188,"y":133},{"p":"A","c":"e","x":1193,"y":35},{"p":"A","c":"e","x":1200,"y":150},{"p":"A","c":"e","x":1208,"y":118},{"p":"A","c":"e","x":1240,"y":110},{"p":"A","c":"e","x":1268,"y":98},{"p":"A","c":"e","x":1292,"y":125},{"p":"A","c":"e","x":1380,"y":128},{"p":"A","c":"e","x":1440,"y":122},{"p":"A","c":"e","x":1450,"y":117},{"p":"A","c":"e","x":1460,"y":130},{"p":"A","c":"e","x":1464,"y":146},{"p":"A","c":"e","x":1468,"y":45},{"p":"A","c":"e","x":1475,"y":148},{"p":"A","c":"e","x":1482,"y":118},{"p":"A","c":"e","x":1510,"y":112},{"p":"A","c":"e","x":1545,"y":100},{"p":"A","c":"e","x":1552,"y":104},
{"p":"A","c":"ph","x":632,"y":296},{"p":"A","c":"ph","x":645,"y":292},{"p":"A","c":"ph","x":652,"y":300},{"p":"A","c":"ph","x":656,"y":270},{"p":"A","c":"ph","x":659,"y":330},{"p":"A","c":"ph","x":662,"y":200},{"p":"A","c":"ph","x":665,"y":390},{"p":"A","c":"ph","x":668,"y":215},{"p":"A","c":"ph","x":671,"y":380},{"p":"A","c":"ph","x":674,"y":240},{"p":"A","c":"ph","x":677,"y":360},{"p":"A","c":"ph","x":680,"y":250},{"p":"A","c":"ph","x":683,"y":340},{"p":"A","c":"ph","x":686,"y":270},{"p":"A","c":"ph","x":689,"y":320},{"p":"A","c":"ph","x":692,"y":285},{"p":"A","c":"ph","x":696,"y":300},{"p":"A","c":"ph","x":710,"y":292},{"p":"A","c":"ph","x":725,"y":298},{"p":"A","c":"ph","x":740,"y":293},{"p":"A","c":"ph","x":752,"y":290},{"p":"A","c":"ph","x":755,"y":270},{"p":"A","c":"ph","x":758,"y":330},{"p":"A","c":"ph","x":761,"y":250},{"p":"A","c":"ph","x":764,"y":350},{"p":"A","c":"ph","x":767,"y":275},{"p":"A","c":"ph","x":770,"y":315},{"p":"A","c":"ph","x":774,"y":295},{"p":"A","c":"ph","x":800,"y":292},{"p":"A","c":"ph","x":830,"y":298},{"p":"A","c":"ph","x":860,"y":294},{"p":"A","c":"ph","x":890,"y":297},{"p":"A","c":"ph","x":915,"y":293},{"p":"A","c":"ph","x":925,"y":285},{"p":"A","c":"ph","x":928,"y":310},{"p":"A","c":"ph","x":931,"y":255},{"p":"A","c":"ph","x":934,"y":335},{"p":"A","c":"ph","x":937,"y":260},{"p":"A","c":"ph","x":940,"y":330},{"p":"A","c":"ph","x":943,"y":275},{"p":"A","c":"ph","x":946,"y":315},{"p":"A","c":"ph","x":950,"y":295},{"p":"A","c":"ph","x":970,"y":293},{"p":"A","c":"ph","x":1000,"y":297},{"p":"A","c":"ph","x":1016,"y":285},{"p":"A","c":"ph","x":1019,"y":265},{"p":"A","c":"ph","x":1022,"y":340},{"p":"A","c":"ph","x":1025,"y":265},{"p":"A","c":"ph","x":1028,"y":330},{"p":"A","c":"ph","x":1031,"y":285},{"p":"A","c":"ph","x":1035,"y":300},{"p":"A","c":"ph","x":1060,"y":292},{"p":"A","c":"ph","x":1100,"y":298},{"p":"A","c":"ph","x":1140,"y":293},{"p":"A","c":"ph","x":1170,"y":297},{"p":"A","c":"ph","x":1195,"y":292},{"p":"A","c":"ph","x":1200,"y":280},{"p":"A","c":"ph","x":1203,"y":320},{"p":"A","c":"ph","x":1206,"y":195},{"p":"A","c":"ph","x":1209,"y":400},{"p":"A","c":"ph","x":1212,"y":210},{"p":"A","c":"ph","x":1215,"y":390},{"p":"A","c":"ph","x":1218,"y":230},{"p":"A","c":"ph","x":1221,"y":370},{"p":"A","c":"ph","x":1224,"y":250},{"p":"A","c":"ph","x":1227,"y":345},{"p":"A","c":"ph","x":1231,"y":280},{"p":"A","c":"ph","x":1236,"y":300},{"p":"A","c":"ph","x":1260,"y":292},{"p":"A","c":"ph","x":1285,"y":297},{"p":"A","c":"ph","x":1292,"y":285},{"p":"A","c":"ph","x":1295,"y":265},{"p":"A","c":"ph","x":1298,"y":340},{"p":"A","c":"ph","x":1301,"y":260},{"p":"A","c":"ph","x":1304,"y":335},{"p":"A","c":"ph","x":1307,"y":280},{"p":"A","c":"ph","x":1311,"y":300},{"p":"A","c":"ph","x":1340,"y":293},{"p":"A","c":"ph","x":1380,"y":298},{"p":"A","c":"ph","x":1420,"y":293},{"p":"A","c":"ph","x":1460,"y":297},{"p":"A","c":"ph","x":1476,"y":285},{"p":"A","c":"ph","x":1479,"y":320},{"p":"A","c":"ph","x":1482,"y":190},{"p":"A","c":"ph","x":1485,"y":400},{"p":"A","c":"ph","x":1488,"y":200},{"p":"A","c":"ph","x":1491,"y":395},{"p":"A","c":"ph","x":1494,"y":220},{"p":"A","c":"ph","x":1497,"y":370},{"p":"A","c":"ph","x":1500,"y":250},{"p":"A","c":"ph","x":1504,"y":340},{"p":"A","c":"ph","x":1508,"y":280},{"p":"A","c":"ph","x":1514,"y":310},{"p":"A","c":"ph","x":1520,"y":290},{"p":"A","c":"ph","x":1530,"y":300},{"p":"A","c":"ph","x":1540,"y":295},{"p":"A","c":"ph","x":1552,"y":300},
{"p":"A","c":"ca","x":632,"y":565},{"p":"A","c":"ca","x":650,"y":580},{"p":"A","c":"ca","x":672,"y":598},{"p":"A","c":"ca","x":678,"y":480},{"p":"A","c":"ca","x":684,"y":360},{"p":"A","c":"ca","x":690,"y":330},{"p":"A","c":"ca","x":705,"y":332},{"p":"A","c":"ca","x":720,"y":340},{"p":"A","c":"ca","x":740,"y":380},{"p":"A","c":"ca","x":752,"y":430},{"p":"A","c":"ca","x":758,"y":498},{"p":"A","c":"ca","x":765,"y":505},{"p":"A","c":"ca","x":790,"y":495},{"p":"A","c":"ca","x":800,"y":508},{"p":"A","c":"ca","x":830,"y":530},{"p":"A","c":"ca","x":870,"y":568},{"p":"A","c":"ca","x":900,"y":582},{"p":"A","c":"ca","x":912,"y":575},{"p":"A","c":"ca","x":925,"y":588},{"p":"A","c":"ca","x":940,"y":605},{"p":"A","c":"ca","x":948,"y":450},{"p":"A","c":"ca","x":955,"y":340},{"p":"A","c":"ca","x":962,"y":328},{"p":"A","c":"ca","x":975,"y":328},{"p":"A","c":"ca","x":990,"y":345},{"p":"A","c":"ca","x":1010,"y":390},{"p":"A","c":"ca","x":1020,"y":430},{"p":"A","c":"ca","x":1028,"y":490},{"p":"A","c":"ca","x":1040,"y":495},{"p":"A","c":"ca","x":1060,"y":505},{"p":"A","c":"ca","x":1090,"y":530},{"p":"A","c":"ca","x":1130,"y":565},{"p":"A","c":"ca","x":1160,"y":585},{"p":"A","c":"ca","x":1178,"y":578},{"p":"A","c":"ca","x":1200,"y":582},{"p":"A","c":"ca","x":1215,"y":598},{"p":"A","c":"ca","x":1221,"y":450},{"p":"A","c":"ca","x":1228,"y":330},{"p":"A","c":"ca","x":1235,"y":320},{"p":"A","c":"ca","x":1250,"y":318},{"p":"A","c":"ca","x":1270,"y":340},{"p":"A","c":"ca","x":1290,"y":400},{"p":"A","c":"ca","x":1300,"y":485},{"p":"A","c":"ca","x":1315,"y":480},{"p":"A","c":"ca","x":1340,"y":500},{"p":"A","c":"ca","x":1370,"y":530},{"p":"A","c":"ca","x":1410,"y":565},{"p":"A","c":"ca","x":1440,"y":570},{"p":"A","c":"ca","x":1475,"y":575},{"p":"A","c":"ca","x":1488,"y":592},{"p":"A","c":"ca","x":1494,"y":450},{"p":"A","c":"ca","x":1500,"y":335},{"p":"A","c":"ca","x":1520,"y":320},{"p":"A","c":"ca","x":1540,"y":345},{"p":"A","c":"ca","x":1552,"y":358},
{"p":"A","c":"ru","x":632,"y":735},{"p":"A","c":"ru","x":660,"y":755},{"p":"A","c":"ru","x":685,"y":772},{"p":"A","c":"ru","x":700,"y":620},{"p":"A","c":"ru","x":715,"y":560},{"p":"A","c":"ru","x":730,"y":548},{"p":"A","c":"ru","x":745,"y":560},{"p":"A","c":"ru","x":770,"y":610},{"p":"A","c":"ru","x":790,"y":630},{"p":"A","c":"ru","x":820,"y":645},{"p":"A","c":"ru","x":860,"y":690},{"p":"A","c":"ru","x":900,"y":725},{"p":"A","c":"ru","x":930,"y":750},{"p":"A","c":"ru","x":952,"y":772},{"p":"A","c":"ru","x":968,"y":610},{"p":"A","c":"ru","x":980,"y":560},{"p":"A","c":"ru","x":995,"y":548},{"p":"A","c":"ru","x":1010,"y":560},{"p":"A","c":"ru","x":1040,"y":615},{"p":"A","c":"ru","x":1060,"y":630},{"p":"A","c":"ru","x":1090,"y":650},{"p":"A","c":"ru","x":1130,"y":700},{"p":"A","c":"ru","x":1170,"y":735},{"p":"A","c":"ru","x":1200,"y":760},{"p":"A","c":"ru","x":1225,"y":782},{"p":"A","c":"ru","x":1240,"y":620},{"p":"A","c":"ru","x":1255,"y":560},{"p":"A","c":"ru","x":1270,"y":540},{"p":"A","c":"ru","x":1285,"y":555},{"p":"A","c":"ru","x":1310,"y":610},{"p":"A","c":"ru","x":1330,"y":635},{"p":"A","c":"ru","x":1360,"y":650},{"p":"A","c":"ru","x":1400,"y":700},{"p":"A","c":"ru","x":1440,"y":740},{"p":"A","c":"ru","x":1480,"y":775},{"p":"A","c":"ru","x":1505,"y":797},{"p":"A","c":"ru","x":1515,"y":640},{"p":"A","c":"ru","x":1530,"y":570},{"p":"A","c":"ru","x":1550,"y":545},
{"p":"A","c":"lu","x":632,"y":875},{"p":"A","c":"lu","x":660,"y":895},{"p":"A","c":"lu","x":685,"y":913},{"p":"A","c":"lu","x":700,"y":790},{"p":"A","c":"lu","x":720,"y":730},{"p":"A","c":"lu","x":738,"y":710},{"p":"A","c":"lu","x":755,"y":730},{"p":"A","c":"lu","x":780,"y":775},{"p":"A","c":"lu","x":800,"y":800},{"p":"A","c":"lu","x":830,"y":815},{"p":"A","c":"lu","x":870,"y":850},{"p":"A","c":"lu","x":910,"y":890},{"p":"A","c":"lu","x":955,"y":916},{"p":"A","c":"lu","x":970,"y":780},{"p":"A","c":"lu","x":985,"y":725},{"p":"A","c":"lu","x":1005,"y":708},{"p":"A","c":"lu","x":1020,"y":720},{"p":"A","c":"lu","x":1050,"y":775},{"p":"A","c":"lu","x":1070,"y":800},{"p":"A","c":"lu","x":1100,"y":815},{"p":"A","c":"lu","x":1140,"y":855},{"p":"A","c":"lu","x":1180,"y":890},{"p":"A","c":"lu","x":1220,"y":926},{"p":"A","c":"lu","x":1240,"y":780},{"p":"A","c":"lu","x":1255,"y":730},{"p":"A","c":"lu","x":1275,"y":710},{"p":"A","c":"lu","x":1290,"y":730},{"p":"A","c":"lu","x":1310,"y":770},{"p":"A","c":"lu","x":1340,"y":800},{"p":"A","c":"lu","x":1370,"y":815},{"p":"A","c":"lu","x":1410,"y":850},{"p":"A","c":"lu","x":1450,"y":885},{"p":"A","c":"lu","x":1480,"y":915},{"p":"A","c":"lu","x":1505,"y":936},{"p":"A","c":"lu","x":1515,"y":800},{"p":"A","c":"lu","x":1530,"y":735},{"p":"A","c":"lu","x":1550,"y":715},
{"p":"A","c":"br","x":632,"y":1075},{"p":"A","c":"br","x":660,"y":1090},{"p":"A","c":"br","x":682,"y":1102},{"p":"A","c":"br","x":690,"y":900},{"p":"A","c":"br","x":705,"y":820},{"p":"A","c":"br","x":720,"y":800},{"p":"A","c":"br","x":735,"y":810},{"p":"A","c":"br","x":760,"y":880},{"p":"A","c":"br","x":790,"y":960},{"p":"A","c":"br","x":810,"y":990},{"p":"A","c":"br","x":830,"y":1010},{"p":"A","c":"br","x":870,"y":1030},{"p":"A","c":"br","x":910,"y":1060},{"p":"A","c":"br","x":948,"y":1110},{"p":"A","c":"br","x":960,"y":930},{"p":"A","c":"br","x":975,"y":830},{"p":"A","c":"br","x":988,"y":805},{"p":"A","c":"br","x":1005,"y":820},{"p":"A","c":"br","x":1030,"y":890},{"p":"A","c":"br","x":1060,"y":960},{"p":"A","c":"br","x":1080,"y":985},{"p":"A","c":"br","x":1110,"y":1000},{"p":"A","c":"br","x":1150,"y":1030},{"p":"A","c":"br","x":1190,"y":1060},{"p":"A","c":"br","x":1218,"y":1110},{"p":"A","c":"br","x":1230,"y":920},{"p":"A","c":"br","x":1245,"y":830},{"p":"A","c":"br","x":1262,"y":810},{"p":"A","c":"br","x":1280,"y":830},{"p":"A","c":"br","x":1305,"y":900},{"p":"A","c":"br","x":1330,"y":970},{"p":"A","c":"br","x":1350,"y":1000},{"p":"A","c":"br","x":1380,"y":1015},{"p":"A","c":"br","x":1420,"y":1040},{"p":"A","c":"br","x":1460,"y":1065},{"p":"A","c":"br","x":1500,"y":1118},{"p":"A","c":"br","x":1510,"y":950},{"p":"A","c":"br","x":1525,"y":850},{"p":"A","c":"br","x":1550,"y":820},
{"p":"A","c":"ra","x":632,"y":1205},{"p":"A","c":"ra","x":670,"y":1230},{"p":"A","c":"ra","x":712,"y":1265},{"p":"A","c":"ra","x":725,"y":1150},{"p":"A","c":"ra","x":740,"y":1060},{"p":"A","c":"ra","x":755,"y":1015},{"p":"A","c":"ra","x":770,"y":1030},{"p":"A","c":"ra","x":790,"y":1100},{"p":"A","c":"ra","x":810,"y":1160},{"p":"A","c":"ra","x":830,"y":1190},{"p":"A","c":"ra","x":860,"y":1200},{"p":"A","c":"ra","x":890,"y":1210},{"p":"A","c":"ra","x":920,"y":1230},{"p":"A","c":"ra","x":945,"y":1250},{"p":"A","c":"ra","x":970,"y":1256},{"p":"A","c":"ra","x":990,"y":1120},{"p":"A","c":"ra","x":1005,"y":1050},{"p":"A","c":"ra","x":1025,"y":1003},{"p":"A","c":"ra","x":1040,"y":1020},{"p":"A","c":"ra","x":1060,"y":1080},{"p":"A","c":"ra","x":1080,"y":1150},{"p":"A","c":"ra","x":1100,"y":1185},{"p":"A","c":"ra","x":1130,"y":1195},{"p":"A","c":"ra","x":1160,"y":1205},{"p":"A","c":"ra","x":1200,"y":1225},{"p":"A","c":"ra","x":1230,"y":1250},{"p":"A","c":"ra","x":1252,"y":1285},{"p":"A","c":"ra","x":1265,"y":1150},{"p":"A","c":"ra","x":1280,"y":1050},{"p":"A","c":"ra","x":1298,"y":995},{"p":"A","c":"ra","x":1315,"y":1020},{"p":"A","c":"ra","x":1335,"y":1090},{"p":"A","c":"ra","x":1360,"y":1160},{"p":"A","c":"ra","x":1380,"y":1190},{"p":"A","c":"ra","x":1410,"y":1200},{"p":"A","c":"ra","x":1430,"y":1200},{"p":"A","c":"ra","x":1470,"y":1215},{"p":"A","c":"ra","x":1510,"y":1250},{"p":"A","c":"ra","x":1528,"y":1276},{"p":"A","c":"ra","x":1540,"y":1150},{"p":"A","c":"ra","x":1552,"y":1080},
{"p":"A","c":"la","x":632,"y":1430},{"p":"A","c":"la","x":660,"y":1445},{"p":"A","c":"la","x":690,"y":1470},{"p":"A","c":"la","x":710,"y":1488},{"p":"A","c":"la","x":725,"y":1350},{"p":"A","c":"la","x":740,"y":1260},{"p":"A","c":"la","x":755,"y":1215},{"p":"A","c":"la","x":770,"y":1230},{"p":"A","c":"la","x":790,"y":1300},{"p":"A","c":"la","x":810,"y":1370},{"p":"A","c":"la","x":830,"y":1405},{"p":"A","c":"la","x":860,"y":1415},{"p":"A","c":"la","x":900,"y":1425},{"p":"A","c":"la","x":940,"y":1455},{"p":"A","c":"la","x":970,"y":1482},{"p":"A","c":"la","x":985,"y":1350},{"p":"A","c":"la","x":1000,"y":1260},{"p":"A","c":"la","x":1020,"y":1210},{"p":"A","c":"la","x":1035,"y":1225},{"p":"A","c":"la","x":1055,"y":1290},{"p":"A","c":"la","x":1075,"y":1360},{"p":"A","c":"la","x":1100,"y":1405},{"p":"A","c":"la","x":1140,"y":1420},{"p":"A","c":"la","x":1180,"y":1440},{"p":"A","c":"la","x":1220,"y":1470},{"p":"A","c":"la","x":1250,"y":1505},{"p":"A","c":"la","x":1265,"y":1350},{"p":"A","c":"la","x":1280,"y":1250},{"p":"A","c":"la","x":1298,"y":1200},{"p":"A","c":"la","x":1315,"y":1220},{"p":"A","c":"la","x":1335,"y":1290},{"p":"A","c":"la","x":1360,"y":1370},{"p":"A","c":"la","x":1380,"y":1410},{"p":"A","c":"la","x":1410,"y":1420},{"p":"A","c":"la","x":1440,"y":1425},{"p":"A","c":"la","x":1470,"y":1440},{"p":"A","c":"la","x":1505,"y":1475},{"p":"A","c":"la","x":1528,"y":1500},{"p":"A","c":"la","x":1540,"y":1400},{"p":"A","c":"la","x":1552,"y":1340},
{"p":"B","c":"e","x":632,"y":127},{"p":"B","c":"e","x":644,"y":126},{"p":"B","c":"e","x":648,"y":80},{"p":"B","c":"e","x":652,"y":35},{"p":"B","c":"e","x":656,"y":85},{"p":"B","c":"e","x":660,"y":128},{"p":"B","c":"e","x":700,"y":130},{"p":"B","c":"e","x":725,"y":136},{"p":"B","c":"e","x":735,"y":145},{"p":"B","c":"e","x":760,"y":130},{"p":"B","c":"e","x":900,"y":125},{"p":"B","c":"e","x":930,"y":118},{"p":"B","c":"e","x":937,"y":80},{"p":"B","c":"e","x":942,"y":40},{"p":"B","c":"e","x":947,"y":85},{"p":"B","c":"e","x":952,"y":128},{"p":"B","c":"e","x":1000,"y":132},{"p":"B","c":"e","x":1025,"y":145},{"p":"B","c":"e","x":1050,"y":130},{"p":"B","c":"e","x":1200,"y":122},{"p":"B","c":"e","x":1230,"y":118},{"p":"B","c":"e","x":1240,"y":80},{"p":"B","c":"e","x":1245,"y":40},{"p":"B","c":"e","x":1250,"y":85},{"p":"B","c":"e","x":1256,"y":128},{"p":"B","c":"e","x":1300,"y":130},{"p":"B","c":"e","x":1320,"y":145},{"p":"B","c":"e","x":1345,"y":130},{"p":"B","c":"e","x":1500,"y":122},{"p":"B","c":"e","x":1530,"y":118},{"p":"B","c":"e","x":1536,"y":80},{"p":"B","c":"e","x":1540,"y":40},{"p":"B","c":"e","x":1544,"y":85},{"p":"B","c":"e","x":1552,"y":128},
{"p":"B","c":"ph","x":632,"y":298},{"p":"B","c":"ph","x":645,"y":296},{"p":"B","c":"ph","x":655,"y":300},{"p":"B","c":"ph","x":660,"y":290},{"p":"B","c":"ph","x":663,"y":160},{"p":"B","c":"ph","x":666,"y":400},{"p":"B","c":"ph","x":669,"y":280},{"p":"B","c":"ph","x":672,"y":350},{"p":"B","c":"ph","x":675,"y":290},{"p":"B","c":"ph","x":678,"y":305},{"p":"B","c":"ph","x":682,"y":290},{"p":"B","c":"ph","x":686,"y":312},{"p":"B","c":"ph","x":690,"y":286},{"p":"B","c":"ph","x":694,"y":310},{"p":"B","c":"ph","x":698,"y":288},{"p":"B","c":"ph","x":702,"y":308},{"p":"B","c":"ph","x":706,"y":287},{"p":"B","c":"ph","x":710,"y":310},{"p":"B","c":"ph","x":714,"y":288},{"p":"B","c":"ph","x":718,"y":308},{"p":"B","c":"ph","x":722,"y":289},{"p":"B","c":"ph","x":726,"y":307},{"p":"B","c":"ph","x":730,"y":290},{"p":"B","c":"ph","x":734,"y":306},{"p":"B","c":"ph","x":738,"y":291},{"p":"B","c":"ph","x":742,"y":305},{"p":"B","c":"ph","x":746,"y":292},{"p":"B","c":"ph","x":750,"y":300},{"p":"B","c":"ph","x":754,"y":280},{"p":"B","c":"ph","x":757,"y":255},{"p":"B","c":"ph","x":760,"y":340},{"p":"B","c":"ph","x":763,"y":290},{"p":"B","c":"ph","x":768,"y":300},{"p":"B","c":"ph","x":800,"y":296},{"p":"B","c":"ph","x":850,"y":299},{"p":"B","c":"ph","x":900,"y":296},{"p":"B","c":"ph","x":940,"y":299},{"p":"B","c":"ph","x":952,"y":290},{"p":"B","c":"ph","x":955,"y":165},{"p":"B","c":"ph","x":958,"y":400},{"p":"B","c":"ph","x":961,"y":280},{"p":"B","c":"ph","x":964,"y":330},{"p":"B","c":"ph","x":967,"y":290},{"p":"B","c":"ph","x":972,"y":308},{"p":"B","c":"ph","x":977,"y":288},{"p":"B","c":"ph","x":982,"y":309},{"p":"B","c":"ph","x":987,"y":287},{"p":"B","c":"ph","x":992,"y":309},{"p":"B","c":"ph","x":997,"y":288},{"p":"B","c":"ph","x":1002,"y":308},{"p":"B","c":"ph","x":1007,"y":289},{"p":"B","c":"ph","x":1012,"y":307},{"p":"B","c":"ph","x":1017,"y":290},{"p":"B","c":"ph","x":1022,"y":307},{"p":"B","c":"ph","x":1027,"y":290},{"p":"B","c":"ph","x":1032,"y":306},{"p":"B","c":"ph","x":1037,"y":291},{"p":"B","c":"ph","x":1042,"y":305},{"p":"B","c":"ph","x":1046,"y":285},{"p":"B","c":"ph","x":1049,"y":250},{"p":"B","c":"ph","x":1052,"y":340},{"p":"B","c":"ph","x":1055,"y":290},{"p":"B","c":"ph","x":1060,"y":300},{"p":"B","c":"ph","x":1100,"y":297},{"p":"B","c":"ph","x":1150,"y":299},{"p":"B","c":"ph","x":1200,"y":296},{"p":"B","c":"ph","x":1245,"y":299},{"p":"B","c":"ph","x":1256,"y":290},{"p":"B","c":"ph","x":1259,"y":165},{"p":"B","c":"ph","x":1262,"y":415},{"p":"B","c":"ph","x":1265,"y":280},{"p":"B","c":"ph","x":1268,"y":340},{"p":"B","c":"ph","x":1271,"y":290},{"p":"B","c":"ph","x":1275,"y":309},{"p":"B","c":"ph","x":1280,"y":288},{"p":"B","c":"ph","x":1285,"y":309},{"p":"B","c":"ph","x":1290,"y":287},{"p":"B","c":"ph","x":1295,"y":309},{"p":"B","c":"ph","x":1300,"y":288},{"p":"B","c":"ph","x":1305,"y":308},{"p":"B","c":"ph","x":1310,"y":289},{"p":"B","c":"ph","x":1315,"y":307},{"p":"B","c":"ph","x":1320,"y":290},{"p":"B","c":"ph","x":1325,"y":307},{"p":"B","c":"ph","x":1330,"y":290},{"p":"B","c":"ph","x":1335,"y":306},{"p":"B","c":"ph","x":1340,"y":291},{"p":"B","c":"ph","x":1345,"y":304},{"p":"B","c":"ph","x":1350,"y":280},{"p":"B","c":"ph","x":1353,"y":230},{"p":"B","c":"ph","x":1356,"y":340},{"p":"B","c":"ph","x":1359,"y":290},{"p":"B","c":"ph","x":1364,"y":300},{"p":"B","c":"ph","x":1400,"y":297},{"p":"B","c":"ph","x":1450,"y":299},{"p":"B","c":"ph","x":1500,"y":296},{"p":"B","c":"ph","x":1552,"y":298},
{"p":"B","c":"ca","x":632,"y":612},{"p":"B","c":"ca","x":660,"y":615},{"p":"B","c":"ca","x":680,"y":605},{"p":"B","c":"ca","x":684,"y":450},{"p":"B","c":"ca","x":690,"y":330},{"p":"B","c":"ca","x":700,"y":265},{"p":"B","c":"ca","x":715,"y":240},{"p":"B","c":"ca","x":735,"y":248},{"p":"B","c":"ca","x":745,"y":300},{"p":"B","c":"ca","x":755,"y":400},{"p":"B","c":"ca","x":763,"y":435},{"p":"B","c":"ca","x":770,"y":430},{"p":"B","c":"ca","x":790,"y":490},{"p":"B","c":"ca","x":830,"y":530},{"p":"B","c":"ca","x":880,"y":570},{"p":"B","c":"ca","x":930,"y":600},{"p":"B","c":"ca","x":965,"y":615},{"p":"B","c":"ca","x":970,"y":450},{"p":"B","c":"ca","x":978,"y":320},{"p":"B","c":"ca","x":990,"y":250},{"p":"B","c":"ca","x":1005,"y":220},{"p":"B","c":"ca","x":1030,"y":245},{"p":"B","c":"ca","x":1045,"y":330},{"p":"B","c":"ca","x":1050,"y":430},{"p":"B","c":"ca","x":1060,"y":440},{"p":"B","c":"ca","x":1090,"y":500},{"p":"B","c":"ca","x":1140,"y":550},{"p":"B","c":"ca","x":1200,"y":600},{"p":"B","c":"ca","x":1265,"y":625},{"p":"B","c":"ca","x":1270,"y":450},{"p":"B","c":"ca","x":1278,"y":320},{"p":"B","c":"ca","x":1290,"y":260},{"p":"B","c":"ca","x":1310,"y":230},{"p":"B","c":"ca","x":1340,"y":260},{"p":"B","c":"ca","x":1350,"y":340},{"p":"B","c":"ca","x":1355,"y":430},{"p":"B","c":"ca","x":1365,"y":440},{"p":"B","c":"ca","x":1400,"y":500},{"p":"B","c":"ca","x":1450,"y":550},{"p":"B","c":"ca","x":1500,"y":590},{"p":"B","c":"ca","x":1552,"y":610},
{"p":"B","c":"ru","x":632,"y":765},{"p":"B","c":"ru","x":660,"y":775},{"p":"B","c":"ru","x":680,"y":800},{"p":"B","c":"ru","x":690,"y":680},{"p":"B","c":"ru","x":700,"y":560},{"p":"B","c":"ru","x":720,"y":510},{"p":"B","c":"ru","x":735,"y":505},{"p":"B","c":"ru","x":750,"y":520},{"p":"B","c":"ru","x":770,"y":580},{"p":"B","c":"ru","x":800,"y":640},{"p":"B","c":"ru","x":850,"y":700},{"p":"B","c":"ru","x":900,"y":750},{"p":"B","c":"ru","x":950,"y":785},{"p":"B","c":"ru","x":975,"y":800},{"p":"B","c":"ru","x":982,"y":680},{"p":"B","c":"ru","x":990,"y":580},{"p":"B","c":"ru","x":1010,"y":510},{"p":"B","c":"ru","x":1025,"y":500},{"p":"B","c":"ru","x":1040,"y":520},{"p":"B","c":"ru","x":1060,"y":580},{"p":"B","c":"ru","x":1100,"y":650},{"p":"B","c":"ru","x":1150,"y":700},{"p":"B","c":"ru","x":1200,"y":750},{"p":"B","c":"ru","x":1250,"y":785},{"p":"B","c":"ru","x":1280,"y":800},{"p":"B","c":"ru","x":1285,"y":680},{"p":"B","c":"ru","x":1292,"y":580},{"p":"B","c":"ru","x":1310,"y":510},{"p":"B","c":"ru","x":1325,"y":500},{"p":"B","c":"ru","x":1345,"y":520},{"p":"B","c":"ru","x":1370,"y":590},{"p":"B","c":"ru","x":1400,"y":640},{"p":"B","c":"ru","x":1450,"y":700},{"p":"B","c":"ru","x":1500,"y":740},{"p":"B","c":"ru","x":1552,"y":770},
{"p":"B","c":"lu","x":632,"y":925},{"p":"B","c":"lu","x":660,"y":935},{"p":"B","c":"lu","x":683,"y":945},{"p":"B","c":"lu","x":695,"y":760},{"p":"B","c":"lu","x":705,"y":660},{"p":"B","c":"lu","x":715,"y":625},{"p":"B","c":"lu","x":725,"y":660},{"p":"B","c":"lu","x":740,"y":700},{"p":"B","c":"lu","x":760,"y":760},{"p":"B","c":"lu","x":800,"y":820},{"p":"B","c":"lu","x":850,"y":870},{"p":"B","c":"lu","x":900,"y":910},{"p":"B","c":"lu","x":970,"y":950},{"p":"B","c":"lu","x":980,"y":730},{"p":"B","c":"lu","x":992,"y":650},{"p":"B","c":"lu","x":1005,"y":610},{"p":"B","c":"lu","x":1020,"y":650},{"p":"B","c":"lu","x":1040,"y":700},{"p":"B","c":"lu","x":1080,"y":790},{"p":"B","c":"lu","x":1130,"y":850},{"p":"B","c":"lu","x":1200,"y":900},{"p":"B","c":"lu","x":1282,"y":950},{"p":"B","c":"lu","x":1290,"y":740},{"p":"B","c":"lu","x":1302,"y":665},{"p":"B","c":"lu","x":1312,"y":655},{"p":"B","c":"lu","x":1330,"y":680},{"p":"B","c":"lu","x":1350,"y":740},{"p":"B","c":"lu","x":1400,"y":810},{"p":"B","c":"lu","x":1450,"y":860},{"p":"B","c":"lu","x":1500,"y":900},{"p":"B","c":"lu","x":1552,"y":930},
{"p":"B","c":"br","x":632,"y":1130},{"p":"B","c":"br","x":660,"y":1135},{"p":"B","c":"br","x":680,"y":1125},{"p":"B","c":"br","x":690,"y":950},{"p":"B","c":"br","x":705,"y":760},{"p":"B","c":"br","x":720,"y":690},{"p":"B","c":"br","x":733,"y":665},{"p":"B","c":"br","x":752,"y":740},{"p":"B","c":"br","x":775,"y":986},{"p":"B","c":"br","x":805,"y":1066},{"p":"B","c":"br","x":855,"y":1116},{"p":"B","c":"br","x":924,"y":1140},{"p":"B","c":"br","x":968,"y":1136},{"p":"B","c":"br","x":975,"y":950},{"p":"B","c":"br","x":990,"y":760},{"p":"B","c":"br","x":1005,"y":700},{"p":"B","c":"br","x":1020,"y":672},{"p":"B","c":"br","x":1030,"y":665},{"p":"B","c":"br","x":1045,"y":700},{"p":"B","c":"br","x":1055,"y":800},{"p":"B","c":"br","x":1062,"y":967},{"p":"B","c":"br","x":1091,"y":1036},{"p":"B","c":"br","x":1141,"y":1085},{"p":"B","c":"br","x":1165,"y":1135},{"p":"B","c":"br","x":1195,"y":1130},{"p":"B","c":"br","x":1205,"y":1105},{"p":"B","c":"br","x":1220,"y":1095},{"p":"B","c":"br","x":1259,"y":1075},{"p":"B","c":"br","x":1282,"y":1060},{"p":"B","c":"br","x":1290,"y":800},{"p":"B","c":"br","x":1300,"y":720},{"p":"B","c":"br","x":1315,"y":680},{"p":"B","c":"br","x":1330,"y":670},{"p":"B","c":"br","x":1345,"y":760},{"p":"B","c":"br","x":1353,"y":937},{"p":"B","c":"br","x":1363,"y":1026},{"p":"B","c":"br","x":1377,"y":1135},{"p":"B","c":"br","x":1407,"y":1164},{"p":"B","c":"br","x":1427,"y":1204},{"p":"B","c":"br","x":1446,"y":1258},{"p":"B","c":"br","x":1454,"y":923},{"p":"B","c":"br","x":1476,"y":967},{"p":"B","c":"br","x":1496,"y":997},{"p":"B","c":"br","x":1520,"y":1026},{"p":"B","c":"br","x":1552,"y":1075},
{"p":"B","c":"ra","x":632,"y":1235},{"p":"B","c":"ra","x":660,"y":1255},{"p":"B","c":"ra","x":690,"y":1280},{"p":"B","c":"ra","x":706,"y":1315},{"p":"B","c":"ra","x":715,"y":1200},{"p":"B","c":"ra","x":730,"y":1110},{"p":"B","c":"ra","x":750,"y":1085},{"p":"B","c":"ra","x":766,"y":1075},{"p":"B","c":"ra","x":790,"y":1090},{"p":"B","c":"ra","x":825,"y":1115},{"p":"B","c":"ra","x":884,"y":1154},{"p":"B","c":"ra","x":924,"y":1204},{"p":"B","c":"ra","x":973,"y":1263},{"p":"B","c":"ra","x":998,"y":1278},{"p":"B","c":"ra","x":1010,"y":1160},{"p":"B","c":"ra","x":1030,"y":1070},{"p":"B","c":"ra","x":1052,"y":1036},{"p":"B","c":"ra","x":1075,"y":1060},{"p":"B","c":"ra","x":1101,"y":1115},{"p":"B","c":"ra","x":1150,"y":1174},{"p":"B","c":"ra","x":1200,"y":1214},{"p":"B","c":"ra","x":1259,"y":1253},{"p":"B","c":"ra","x":1298,"y":1283},{"p":"B","c":"ra","x":1310,"y":1150},{"p":"B","c":"ra","x":1330,"y":1060},{"p":"B","c":"ra","x":1358,"y":1021},{"p":"B","c":"ra","x":1377,"y":1066},{"p":"B","c":"ra","x":1417,"y":1115},{"p":"B","c":"ra","x":1466,"y":1164},{"p":"B","c":"ra","x":1515,"y":1214},{"p":"B","c":"ra","x":1552,"y":1233},
{"p":"B","c":"la","x":630,"y":1474},{"p":"B","c":"la","x":670,"y":1470},{"p":"B","c":"la","x":706,"y":1465},{"p":"B","c":"la","x":720,"y":1400},{"p":"B","c":"la","x":740,"y":1320},{"p":"B","c":"la","x":771,"y":1283},{"p":"B","c":"la","x":825,"y":1332},{"p":"B","c":"la","x":884,"y":1391},{"p":"B","c":"la","x":924,"y":1450},{"p":"B","c":"la","x":968,"y":1470},{"p":"B","c":"la","x":990,"y":1400},{"p":"B","c":"la","x":1022,"y":1352},{"p":"B","c":"la","x":1071,"y":1307},{"p":"B","c":"la","x":1121,"y":1352},{"p":"B","c":"la","x":1180,"y":1411},{"p":"B","c":"la","x":1239,"y":1450},{"p":"B","c":"la","x":1298,"y":1480},{"p":"B","c":"la","x":1320,"y":1390},{"p":"B","c":"la","x":1338,"y":1332},{"p":"B","c":"la","x":1367,"y":1278},{"p":"B","c":"la","x":1417,"y":1332},{"p":"B","c":"la","x":1466,"y":1381},{"p":"B","c":"la","x":1515,"y":1421},{"p":"B","c":"la","x":1552,"y":1450},
{"p":"C","c":"e","x":632,"y":150},{"p":"C","c":"e","x":637,"y":80},{"p":"C","c":"e","x":643,"y":40},{"p":"C","c":"e","x":649,"y":80},{"p":"C","c":"e","x":655,"y":148},{"p":"C","c":"e","x":720,"y":150},{"p":"C","c":"e","x":750,"y":155},{"p":"C","c":"e","x":800,"y":150},{"p":"C","c":"e","x":860,"y":145},{"p":"C","c":"e","x":880,"y":135},{"p":"C","c":"e","x":900,"y":145},{"p":"C","c":"e","x":920,"y":148},{"p":"C","c":"e","x":925,"y":155},{"p":"C","c":"e","x":930,"y":150},{"p":"C","c":"e","x":934,"y":80},{"p":"C","c":"e","x":940,"y":45},{"p":"C","c":"e","x":946,"y":80},{"p":"C","c":"e","x":952,"y":150},{"p":"C","c":"e","x":1000,"y":152},{"p":"C","c":"e","x":1100,"y":148},{"p":"C","c":"e","x":1165,"y":143},{"p":"C","c":"e","x":1180,"y":138},{"p":"C","c":"e","x":1200,"y":148},{"p":"C","c":"e","x":1225,"y":150},{"p":"C","c":"e","x":1232,"y":80},{"p":"C","c":"e","x":1238,"y":50},{"p":"C","c":"e","x":1244,"y":80},{"p":"C","c":"e","x":1250,"y":150},{"p":"C","c":"e","x":1300,"y":152},{"p":"C","c":"e","x":1400,"y":150},{"p":"C","c":"e","x":1460,"y":140},{"p":"C","c":"e","x":1480,"y":133},{"p":"C","c":"e","x":1500,"y":148},{"p":"C","c":"e","x":1525,"y":152},{"p":"C","c":"e","x":1534,"y":80},{"p":"C","c":"e","x":1540,"y":50},{"p":"C","c":"e","x":1546,"y":80},{"p":"C","c":"e","x":1552,"y":150},
{"p":"C","c":"ph","x":632,"y":318},{"p":"C","c":"ph","x":636,"y":300},{"p":"C","c":"ph","x":640,"y":335},{"p":"C","c":"ph","x":644,"y":260},{"p":"C","c":"ph","x":648,"y":380},{"p":"C","c":"ph","x":652,"y":235},{"p":"C","c":"ph","x":656,"y":420},{"p":"C","c":"ph","x":660,"y":250},{"p":"C","c":"ph","x":664,"y":440},{"p":"C","c":"ph","x":668,"y":270},{"p":"C","c":"ph","x":672,"y":390},{"p":"C","c":"ph","x":676,"y":240},{"p":"C","c":"ph","x":680,"y":410},{"p":"C","c":"ph","x":684,"y":255},{"p":"C","c":"ph","x":688,"y":400},{"p":"C","c":"ph","x":692,"y":250},{"p":"C","c":"ph","x":696,"y":380},{"p":"C","c":"ph","x":700,"y":290},{"p":"C","c":"ph","x":704,"y":330},{"p":"C","c":"ph","x":708,"y":305},{"p":"C","c":"ph","x":715,"y":322},{"p":"C","c":"ph","x":722,"y":308},{"p":"C","c":"ph","x":729,"y":320},{"p":"C","c":"ph","x":736,"y":310},{"p":"C","c":"ph","x":743,"y":323},{"p":"C","c":"ph","x":750,"y":308},{"p":"C","c":"ph","x":757,"y":290},{"p":"C","c":"ph","x":761,"y":350},{"p":"C","c":"ph","x":765,"y":175},{"p":"C","c":"ph","x":769,"y":380},{"p":"C","c":"ph","x":773,"y":280},{"p":"C","c":"ph","x":777,"y":340},{"p":"C","c":"ph","x":781,"y":300},{"p":"C","c":"ph","x":790,"y":322},{"p":"C","c":"ph","x":800,"y":308},{"p":"C","c":"ph","x":810,"y":320},{"p":"C","c":"ph","x":820,"y":307},{"p":"C","c":"ph","x":830,"y":324},{"p":"C","c":"ph","x":840,"y":306},{"p":"C","c":"ph","x":850,"y":321},{"p":"C","c":"ph","x":860,"y":309},{"p":"C","c":"ph","x":870,"y":324},{"p":"C","c":"ph","x":880,"y":305},{"p":"C","c":"ph","x":890,"y":322},{"p":"C","c":"ph","x":900,"y":300},{"p":"C","c":"ph","x":910,"y":330},{"p":"C","c":"ph","x":915,"y":280},{"p":"C","c":"ph","x":920,"y":345},{"p":"C","c":"ph","x":925,"y":270},{"p":"C","c":"ph","x":930,"y":360},{"p":"C","c":"ph","x":935,"y":255},{"p":"C","c":"ph","x":940,"y":370},{"p":"C","c":"ph","x":945,"y":250},{"p":"C","c":"ph","x":950,"y":360},{"p":"C","c":"ph","x":955,"y":260},{"p":"C","c":"ph","x":960,"y":345},{"p":"C","c":"ph","x":965,"y":240},{"p":"C","c":"ph","x":970,"y":380},{"p":"C","c":"ph","x":975,"y":255},{"p":"C","c":"ph","x":980,"y":365},{"p":"C","c":"ph","x":985,"y":215},{"p":"C","c":"ph","x":990,"y":400},{"p":"C","c":"ph","x":995,"y":280},{"p":"C","c":"ph","x":1000,"y":330},{"p":"C","c":"ph","x":1010,"y":312},{"p":"C","c":"ph","x":1020,"y":322},{"p":"C","c":"ph","x":1030,"y":306},{"p":"C","c":"ph","x":1040,"y":320},{"p":"C","c":"ph","x":1046,"y":280},{"p":"C","c":"ph","x":1050,"y":240},{"p":"C","c":"ph","x":1054,"y":380},{"p":"C","c":"ph","x":1058,"y":260},{"p":"C","c":"ph","x":1062,"y":360},{"p":"C","c":"ph","x":1066,"y":250},{"p":"C","c":"ph","x":1070,"y":350},{"p":"C","c":"ph","x":1075,"y":300},{"p":"C","c":"ph","x":1085,"y":322},{"p":"C","c":"ph","x":1095,"y":308},{"p":"C","c":"ph","x":1105,"y":320},{"p":"C","c":"ph","x":1115,"y":310},{"p":"C","c":"ph","x":1125,"y":318},{"p":"C","c":"ph","x":1135,"y":308},{"p":"C","c":"ph","x":1145,"y":320},{"p":"C","c":"ph","x":1155,"y":310},{"p":"C","c":"ph","x":1165,"y":318},{"p":"C","c":"ph","x":1175,"y":306},{"p":"C","c":"ph","x":1185,"y":322},{"p":"C","c":"ph","x":1195,"y":305},{"p":"C","c":"ph","x":1205,"y":325},{"p":"C","c":"ph","x":1215,"y":290},{"p":"C","c":"ph","x":1220,"y":350},{"p":"C","c":"ph","x":1225,"y":260},{"p":"C","c":"ph","x":1230,"y":380},{"p":"C","c":"ph","x":1235,"y":240},{"p":"C","c":"ph","x":1240,"y":400},{"p":"C","c":"ph","x":1245,"y":230},{"p":"C","c":"ph","x":1250,"y":410},{"p":"C","c":"ph","x":1255,"y":225},{"p":"C","c":"ph","x":1260,"y":390},{"p":"C","c":"ph","x":1265,"y":250},{"p":"C","c":"ph","x":1270,"y":370},{"p":"C","c":"ph","x":1275,"y":260},{"p":"C","c":"ph","x":1280,"y":350},{"p":"C","c":"ph","x":1285,"y":280},{"p":"C","c":"ph","x":1290,"y":330},{"p":"C","c":"ph","x":1300,"y":308},{"p":"C","c":"ph","x":1310,"y":322},{"p":"C","c":"ph","x":1320,"y":306},{"p":"C","c":"ph","x":1330,"y":320},{"p":"C","c":"ph","x":1340,"y":312},{"p":"C","c":"ph","x":1348,"y":280},{"p":"C","c":"ph","x":1352,"y":240},{"p":"C","c":"ph","x":1356,"y":390},{"p":"C","c":"ph","x":1360,"y":260},{"p":"C","c":"ph","x":1364,"y":360},{"p":"C","c":"ph","x":1368,"y":280},{"p":"C","c":"ph","x":1373,"y":320},{"p":"C","c":"ph","x":1385,"y":305},{"p":"C","c":"ph","x":1395,"y":325},{"p":"C","c":"ph","x":1405,"y":300},{"p":"C","c":"ph","x":1415,"y":322},{"p":"C","c":"ph","x":1425,"y":305},{"p":"C","c":"ph","x":1435,"y":325},{"p":"C","c":"ph","x":1445,"y":304},{"p":"C","c":"ph","x":1455,"y":322},{"p":"C","c":"ph","x":1465,"y":308},{"p":"C","c":"ph","x":1475,"y":325},{"p":"C","c":"ph","x":1485,"y":305},{"p":"C","c":"ph","x":1495,"y":320},{"p":"C","c":"ph","x":1505,"y":308},{"p":"C","c":"ph","x":1515,"y":290},{"p":"C","c":"ph","x":1520,"y":350},{"p":"C","c":"ph","x":1525,"y":270},{"p":"C","c":"ph","x":1530,"y":380},{"p":"C","c":"ph","x":1535,"y":260},{"p":"C","c":"ph","x":1540,"y":400},{"p":"C","c":"ph","x":1545,"y":270},{"p":"C","c":"ph","x":1550,"y":440},{"p":"C","c":"ph","x":1553,"y":320},
{"p":"C","c":"ca","x":632,"y":605},{"p":"C","c":"ca","x":660,"y":615},{"p":"C","c":"ca","x":672,"y":625},{"p":"C","c":"ca","x":678,"y":500},{"p":"C","c":"ca","x":684,"y":380},{"p":"C","c":"ca","x":690,"y":330},{"p":"C","c":"ca","x":700,"y":320},{"p":"C","c":"ca","x":715,"y":330},{"p":"C","c":"ca","x":735,"y":380},{"p":"C","c":"ca","x":755,"y":470},{"p":"C","c":"ca","x":765,"y":495},{"p":"C","c":"ca","x":780,"y":485},{"p":"C","c":"ca","x":800,"y":500},{"p":"C","c":"ca","x":820,"y":530},{"p":"C","c":"ca","x":850,"y":570},{"p":"C","c":"ca","x":900,"y":585},{"p":"C","c":"ca","x":940,"y":605},{"p":"C","c":"ca","x":965,"y":632},{"p":"C","c":"ca","x":970,"y":480},{"p":"C","c":"ca","x":976,"y":340},{"p":"C","c":"ca","x":990,"y":320},{"p":"C","c":"ca","x":1010,"y":330},{"p":"C","c":"ca","x":1030,"y":380},{"p":"C","c":"ca","x":1050,"y":460},{"p":"C","c":"ca","x":1060,"y":490},{"p":"C","c":"ca","x":1075,"y":480},{"p":"C","c":"ca","x":1100,"y":510},{"p":"C","c":"ca","x":1130,"y":545},{"p":"C","c":"ca","x":1180,"y":570},{"p":"C","c":"ca","x":1230,"y":590},{"p":"C","c":"ca","x":1265,"y":635},{"p":"C","c":"ca","x":1270,"y":480},{"p":"C","c":"ca","x":1276,"y":340},{"p":"C","c":"ca","x":1290,"y":320},{"p":"C","c":"ca","x":1310,"y":330},{"p":"C","c":"ca","x":1330,"y":380},{"p":"C","c":"ca","x":1350,"y":470},{"p":"C","c":"ca","x":1360,"y":490},{"p":"C","c":"ca","x":1375,"y":480},{"p":"C","c":"ca","x":1400,"y":500},{"p":"C","c":"ca","x":1430,"y":540},{"p":"C","c":"ca","x":1470,"y":575},{"p":"C","c":"ca","x":1510,"y":600},{"p":"C","c":"ca","x":1552,"y":632},
{"p":"C","c":"ua","x":632,"y":765},{"p":"C","c":"ua","x":660,"y":780},{"p":"C","c":"ua","x":686,"y":810},{"p":"C","c":"ua","x":695,"y":700},{"p":"C","c":"ua","x":710,"y":600},{"p":"C","c":"ua","x":730,"y":555},{"p":"C","c":"ua","x":740,"y":545},{"p":"C","c":"ua","x":755,"y":570},{"p":"C","c":"ua","x":770,"y":620},{"p":"C","c":"ua","x":790,"y":660},{"p":"C","c":"ua","x":810,"y":665},{"p":"C","c":"ua","x":830,"y":670},{"p":"C","c":"ua","x":860,"y":700},{"p":"C","c":"ua","x":890,"y":740},{"p":"C","c":"ua","x":930,"y":760},{"p":"C","c":"ua","x":960,"y":770},{"p":"C","c":"ua","x":985,"y":800},{"p":"C","c":"ua","x":995,"y":690},{"p":"C","c":"ua","x":1010,"y":580},{"p":"C","c":"ua","x":1025,"y":540},{"p":"C","c":"ua","x":1035,"y":535},{"p":"C","c":"ua","x":1050,"y":560},{"p":"C","c":"ua","x":1065,"y":620},{"p":"C","c":"ua","x":1080,"y":660},{"p":"C","c":"ua","x":1100,"y":670},{"p":"C","c":"ua","x":1130,"y":690},{"p":"C","c":"ua","x":1160,"y":720},{"p":"C","c":"ua","x":1200,"y":750},{"p":"C","c":"ua","x":1240,"y":760},{"p":"C","c":"ua","x":1280,"y":800},{"p":"C","c":"ua","x":1290,"y":690},{"p":"C","c":"ua","x":1305,"y":580},{"p":"C","c":"ua","x":1320,"y":540},{"p":"C","c":"ua","x":1332,"y":535},{"p":"C","c":"ua","x":1345,"y":560},{"p":"C","c":"ua","x":1360,"y":620},{"p":"C","c":"ua","x":1380,"y":660},{"p":"C","c":"ua","x":1400,"y":665},{"p":"C","c":"ua","x":1430,"y":680},{"p":"C","c":"ua","x":1460,"y":720},{"p":"C","c":"ua","x":1500,"y":760},{"p":"C","c":"ua","x":1530,"y":780},{"p":"C","c":"ua","x":1552,"y":800},
{"p":"C","c":"br","x":632,"y":1115},{"p":"C","c":"br","x":660,"y":1135},{"p":"C","c":"br","x":680,"y":1140},{"p":"C","c":"br","x":690,"y":1000},{"p":"C","c":"br","x":705,"y":880},{"p":"C","c":"br","x":720,"y":810},{"p":"C","c":"br","x":732,"y":790},{"p":"C","c":"br","x":745,"y":810},{"p":"C","c":"br","x":765,"y":880},{"p":"C","c":"br","x":785,"y":960},{"p":"C","c":"br","x":805,"y":1000},{"p":"C","c":"br","x":830,"y":1035},{"p":"C","c":"br","x":860,"y":1060},{"p":"C","c":"br","x":900,"y":1080},{"p":"C","c":"br","x":940,"y":1110},{"p":"C","c":"br","x":970,"y":1140},{"p":"C","c":"br","x":985,"y":1000},{"p":"C","c":"br","x":1000,"y":880},{"p":"C","c":"br","x":1018,"y":810},{"p":"C","c":"br","x":1028,"y":804},{"p":"C","c":"br","x":1045,"y":830},{"p":"C","c":"br","x":1062,"y":971},{"p":"C","c":"br","x":1091,"y":1041},{"p":"C","c":"br","x":1140,"y":1080},{"p":"C","c":"br","x":1220,"y":1110},{"p":"C","c":"br","x":1269,"y":1140},{"p":"C","c":"br","x":1280,"y":1000},{"p":"C","c":"br","x":1295,"y":880},{"p":"C","c":"br","x":1312,"y":820},{"p":"C","c":"br","x":1325,"y":810},{"p":"C","c":"br","x":1340,"y":830},{"p":"C","c":"br","x":1360,"y":900},{"p":"C","c":"br","x":1380,"y":970},{"p":"C","c":"br","x":1405,"y":1010},{"p":"C","c":"br","x":1440,"y":1040},{"p":"C","c":"br","x":1480,"y":1070},{"p":"C","c":"br","x":1520,"y":1100},{"p":"C","c":"br","x":1552,"y":1135},
{"p":"C","c":"ra","x":632,"y":1270},{"p":"C","c":"ra","x":660,"y":1300},{"p":"C","c":"ra","x":680,"y":1320},{"p":"C","c":"ra","x":702,"y":1322},{"p":"C","c":"ra","x":712,"y":1200},{"p":"C","c":"ra","x":725,"y":1080},{"p":"C","c":"ra","x":745,"y":990},{"p":"C","c":"ra","x":760,"y":972},{"p":"C","c":"ra","x":772,"y":990},{"p":"C","c":"ra","x":785,"y":1031},{"p":"C","c":"ra","x":810,"y":1130},{"p":"C","c":"ra","x":830,"y":1200},{"p":"C","c":"ra","x":854,"y":1258},{"p":"C","c":"ra","x":924,"y":1278},{"p":"C","c":"ra","x":960,"y":1290},{"p":"C","c":"ra","x":985,"y":1305},{"p":"C","c":"ra","x":1000,"y":1312},{"p":"C","c":"ra","x":1010,"y":1180},{"p":"C","c":"ra","x":1025,"y":1060},{"p":"C","c":"ra","x":1040,"y":990},{"p":"C","c":"ra","x":1052,"y":972},{"p":"C","c":"ra","x":1068,"y":1000},{"p":"C","c":"ra","x":1091,"y":1130},{"p":"C","c":"ra","x":1131,"y":1248},{"p":"C","c":"ra","x":1180,"y":1228},{"p":"C","c":"ra","x":1259,"y":1258},{"p":"C","c":"ra","x":1298,"y":1312},{"p":"C","c":"ra","x":1310,"y":1180},{"p":"C","c":"ra","x":1325,"y":1060},{"p":"C","c":"ra","x":1340,"y":980},{"p":"C","c":"ra","x":1353,"y":957},{"p":"C","c":"ra","x":1368,"y":990},{"p":"C","c":"ra","x":1387,"y":1051},{"p":"C","c":"ra","x":1417,"y":1189},{"p":"C","c":"ra","x":1437,"y":1228},{"p":"C","c":"ra","x":1496,"y":1238},{"p":"C","c":"ra","x":1535,"y":1258},{"p":"C","c":"ra","x":1552,"y":1290},
{"p":"C","c":"la","x":630,"y":1495},{"p":"C","c":"la","x":667,"y":1500},{"p":"C","c":"la","x":680,"y":1490},{"p":"C","c":"la","x":702,"y":1510},{"p":"C","c":"la","x":715,"y":1400},{"p":"C","c":"la","x":730,"y":1290},{"p":"C","c":"la","x":745,"y":1225},{"p":"C","c":"la","x":756,"y":1218},{"p":"C","c":"la","x":770,"y":1250},{"p":"C","c":"la","x":785,"y":1307},{"p":"C","c":"la","x":805,"y":1386},{"p":"C","c":"la","x":835,"y":1435},{"p":"C","c":"la","x":884,"y":1455},{"p":"C","c":"la","x":953,"y":1495},{"p":"C","c":"la","x":1002,"y":1525},{"p":"C","c":"la","x":1022,"y":1317},{"p":"C","c":"la","x":1040,"y":1225},{"p":"C","c":"la","x":1052,"y":1208},{"p":"C","c":"la","x":1065,"y":1250},{"p":"C","c":"la","x":1081,"y":1327},{"p":"C","c":"la","x":1111,"y":1396},{"p":"C","c":"la","x":1150,"y":1426},{"p":"C","c":"la","x":1220,"y":1445},{"p":"C","c":"la","x":1255,"y":1465},{"p":"C","c":"la","x":1288,"y":1524},{"p":"C","c":"la","x":1300,"y":1420},{"p":"C","c":"la","x":1318,"y":1327},{"p":"C","c":"la","x":1335,"y":1240},{"p":"C","c":"la","x":1353,"y":1218},{"p":"C","c":"la","x":1377,"y":1288},{"p":"C","c":"la","x":1407,"y":1386},{"p":"C","c":"la","x":1447,"y":1426},{"p":"C","c":"la","x":1496,"y":1445},{"p":"C","c":"la","x":1525,"y":1475},{"p":"C","c":"la","x":1552,"y":1482}
],
"r":[
{"p":"A","k":"g","x":-242,"x2":1502,"y":6,"y2":6},{"p":"A","k":"g","x":-242,"x2":1502,"y":-6,"y2":-6},{"p":"A","k":"g","x":-242,"x2":1502,"y":-12,"y2":-12},{"p":"A","k":"g","x":-242,"x2":1502,"y":-18,"y2":-18},{"p":"A","k":"g","x":-242,"x2":1502,"y":-24,"y2":-24},{"p":"A","k":"g","x":-242,"x2":1502,"y":-30,"y2":-30},{"p":"A","k":"g","x":-242,"x2":1502,"y":-36,"y2":-36},{"p":"A","k":"z","x":-242,"x2":1502,"y":0,"y2":0},
{"p":"A","k":"g","x":-200,"x2":-200,"y":12.1,"y2":-36},{"p":"A","k":"g","x":200,"x2":200,"y":12.1,"y2":-36},{"p":"A","k":"g","x":400,"x2":400,"y":12.1,"y2":-36},{"p":"A","k":"g","x":600,"x2":600,"y":12.1,"y2":-36},{"p":"A","k":"g","x":800,"x2":800,"y":12.1,"y2":-36},{"p":"A","k":"g","x":1000,"x2":1000,"y":12.1,"y2":-36},{"p":"A","k":"g","x":1200,"x2":1200,"y":12.1,"y2":-36},{"p":"A","k":"g","x":1400,"x2":1400,"y":12.1,"y2":-36},{"p":"A","k":"g","x":1502,"x2":1502,"y":12.1,"y2":-41.5},
{"p":"A","k":"yl","x":0,"x2":0,"y":12.1,"y2":-41.5},{"p":"A","k":"yl","x":1258,"x2":1258,"y":12.1,"y2":-41.5},{"p":"A","k":"yl","x":-242,"x2":1502,"y":12.1,"y2":12.1},{"p":"A","k":"yl","x":-242,"x2":1502,"y":-41.5,"y2":-41.5},{"p":"A","k":"yl","x":-242,"x2":-242,"y":12.6,"y2":11.4},{"p":"A","k":"yl","x":1502,"x2":1502,"y":12.6,"y2":11.4},
{"p":"A","k":"av","x":392,"x2":392,"y":12.1,"y2":-41.5},{"p":"A","k":"av","x":399,"x2":399,"y":12.1,"y2":-41.5},{"p":"A","k":"tl","x":677,"x2":677,"y":12.1,"y2":-36},{"p":"A","k":"rd","x":681,"x2":681,"y":-38.9,"y2":-40.3},
{"p":"A","k":"tk","x":-242,"x2":-242,"y":-41.5,"y2":-40.9},{"p":"A","k":"tk","x":-142,"x2":-142,"y":-41.5,"y2":-40.9},{"p":"A","k":"tk","x":-42,"x2":-42,"y":-41.5,"y2":-40.9},{"p":"A","k":"tk","x":58,"x2":58,"y":-41.5,"y2":-40.9},{"p":"A","k":"tk","x":158,"x2":158,"y":-41.5,"y2":-40.9},{"p":"A","k":"tk","x":258,"x2":258,"y":-41.5,"y2":-40.9},{"p":"A","k":"tk","x":358,"x2":358,"y":-41.5,"y2":-40.9},{"p":"A","k":"tk","x":458,"x2":458,"y":-41.5,"y2":-40.9},{"p":"A","k":"tk","x":558,"x2":558,"y":-41.5,"y2":-40.9},{"p":"A","k":"tk","x":658,"x2":658,"y":-41.5,"y2":-40.9},{"p":"A","k":"tk","x":758,"x2":758,"y":-41.5,"y2":-40.9},{"p":"A","k":"tk","x":858,"x2":858,"y":-41.5,"y2":-40.9},{"p":"A","k":"tk","x":958,"x2":958,"y":-41.5,"y2":-40.9},{"p":"A","k":"tk","x":1058,"x2":1058,"y":-41.5,"y2":-40.9},{"p":"A","k":"tk","x":1158,"x2":1158,"y":-41.5,"y2":-40.9},{"p":"A","k":"tk","x":1358,"x2":1358,"y":-41.5,"y2":-40.9},{"p":"A","k":"tk","x":1458,"x2":1458,"y":-41.5,"y2":-40.9},
{"p":"B","k":"g","x":-165,"x2":1036,"y":5,"y2":5},{"p":"B","k":"g","x":-165,"x2":1036,"y":-5,"y2":-5},{"p":"B","k":"g","x":-165,"x2":1036,"y":-10,"y2":-10},{"p":"B","k":"g","x":-165,"x2":1036,"y":-15,"y2":-15},{"p":"B","k":"g","x":-165,"x2":1036,"y":-20,"y2":-20},{"p":"B","k":"g","x":-165,"x2":1036,"y":-25,"y2":-25},{"p":"B","k":"g","x":-165,"x2":1036,"y":-30,"y2":-30},{"p":"B","k":"z","x":-165,"x2":1036,"y":0,"y2":0},
{"p":"B","k":"g","x":200,"x2":200,"y":10.1,"y2":-30},{"p":"B","k":"g","x":400,"x2":400,"y":10.1,"y2":-30},{"p":"B","k":"g","x":600,"x2":600,"y":10.1,"y2":-30},{"p":"B","k":"g","x":800,"x2":800,"y":10.1,"y2":-30},{"p":"B","k":"g","x":1000,"x2":1000,"y":10.1,"y2":-30},{"p":"B","k":"g","x":1036,"x2":1036,"y":10.1,"y2":-34.6},
{"p":"B","k":"yl","x":0,"x2":0,"y":10.1,"y2":-34.6},{"p":"B","k":"yl","x":871,"x2":871,"y":10.1,"y2":-34.6},{"p":"B","k":"yl","x":-165,"x2":1036,"y":10.1,"y2":10.1},{"p":"B","k":"yl","x":-165,"x2":1036,"y":-34.6,"y2":-34.6},{"p":"B","k":"yl","x":-165,"x2":-165,"y":10.5,"y2":9.6},{"p":"B","k":"yl","x":1036,"x2":1036,"y":10.5,"y2":9.6},
{"p":"B","k":"av","x":357,"x2":357,"y":10.1,"y2":-34.6},{"p":"B","k":"tl","x":318,"x2":318,"y":10.1,"y2":-30},{"p":"B","k":"rd","x":320,"x2":320,"y":-31.7,"y2":-32.6},
{"p":"B","k":"tk","x":-165,"x2":-165,"y":-34.6,"y2":-34.1},{"p":"B","k":"tk","x":-65,"x2":-65,"y":-34.6,"y2":-34.1},{"p":"B","k":"tk","x":35,"x2":35,"y":-34.6,"y2":-34.1},{"p":"B","k":"tk","x":135,"x2":135,"y":-34.6,"y2":-34.1},{"p":"B","k":"tk","x":235,"x2":235,"y":-34.6,"y2":-34.1},{"p":"B","k":"tk","x":335,"x2":335,"y":-34.6,"y2":-34.1},{"p":"B","k":"tk","x":435,"x2":435,"y":-34.6,"y2":-34.1},{"p":"B","k":"tk","x":535,"x2":535,"y":-34.6,"y2":-34.1},{"p":"B","k":"tk","x":635,"x2":635,"y":-34.6,"y2":-34.1},{"p":"B","k":"tk","x":735,"x2":735,"y":-34.6,"y2":-34.1},{"p":"B","k":"tk","x":835,"x2":835,"y":-34.6,"y2":-34.1},{"p":"B","k":"tk","x":935,"x2":935,"y":-34.6,"y2":-34.1},{"p":"B","k":"tk","x":1035,"x2":1035,"y":-34.6,"y2":-34.1},
{"p":"C","k":"g","x":-153,"x2":977,"y":5,"y2":5},{"p":"C","k":"g","x":-153,"x2":977,"y":-5,"y2":-5},{"p":"C","k":"g","x":-153,"x2":977,"y":-10,"y2":-10},{"p":"C","k":"g","x":-153,"x2":977,"y":-15,"y2":-15},{"p":"C","k":"g","x":-153,"x2":977,"y":-20,"y2":-20},{"p":"C","k":"g","x":-153,"x2":977,"y":-25,"y2":-25},{"p":"C","k":"g","x":-153,"x2":977,"y":-30,"y2":-30},{"p":"C","k":"z","x":-153,"x2":977,"y":0,"y2":0},
{"p":"C","k":"g","x":200,"x2":200,"y":10.07,"y2":-30},{"p":"C","k":"g","x":400,"x2":400,"y":10.07,"y2":-30},{"p":"C","k":"g","x":600,"x2":600,"y":10.07,"y2":-30},{"p":"C","k":"g","x":800,"x2":800,"y":10.07,"y2":-30},{"p":"C","k":"g","x":977,"x2":977,"y":10.07,"y2":-34.45},
{"p":"C","k":"yl","x":0,"x2":0,"y":10.07,"y2":-34.45},{"p":"C","k":"yl","x":823,"x2":823,"y":10.07,"y2":-34.45},{"p":"C","k":"yl","x":-153,"x2":977,"y":10.07,"y2":10.07},{"p":"C","k":"yl","x":-153,"x2":977,"y":-34.45,"y2":-34.45},{"p":"C","k":"yl","x":-153,"x2":-153,"y":10.45,"y2":9.6},{"p":"C","k":"yl","x":977,"x2":977,"y":10.45,"y2":9.6},
{"p":"C","k":"av","x":375,"x2":375,"y":10.07,"y2":-34.45},{"p":"C","k":"tl","x":347,"x2":347,"y":10.07,"y2":-30},{"p":"C","k":"rd","x":350,"x2":350,"y":-32.3,"y2":-33.1},
{"p":"C","k":"tk","x":-153,"x2":-153,"y":-34.45,"y2":-34.05},{"p":"C","k":"tk","x":-53,"x2":-53,"y":-34.45,"y2":-34.05},{"p":"C","k":"tk","x":47,"x2":47,"y":-34.45,"y2":-34.05},{"p":"C","k":"tk","x":147,"x2":147,"y":-34.45,"y2":-34.05},{"p":"C","k":"tk","x":247,"x2":247,"y":-34.45,"y2":-34.05},{"p":"C","k":"tk","x":347,"x2":347,"y":-34.45,"y2":-34.05},{"p":"C","k":"tk","x":447,"x2":447,"y":-34.45,"y2":-34.05},{"p":"C","k":"tk","x":547,"x2":547,"y":-34.45,"y2":-34.05},{"p":"C","k":"tk","x":647,"x2":647,"y":-34.45,"y2":-34.05},{"p":"C","k":"tk","x":747,"x2":747,"y":-34.45,"y2":-34.05},{"p":"C","k":"tk","x":847,"x2":847,"y":-34.45,"y2":-34.05},{"p":"C","k":"tk","x":947,"x2":947,"y":-34.45,"y2":-34.05}
],
"tl":[
{"p":"A","a":"x","v":-200,"s":"-200"},{"p":"A","a":"x","v":0,"s":"0"},{"p":"A","a":"x","v":200,"s":"200"},{"p":"A","a":"x","v":400,"s":"400"},{"p":"A","a":"x","v":600,"s":"600"},{"p":"A","a":"x","v":800,"s":"800"},{"p":"A","a":"x","v":1000,"s":"1000"},{"p":"A","a":"x","v":1200,"s":"1200"},{"p":"A","a":"x","v":1400,"s":"1400"},
{"p":"A","a":"y","v":6,"s":"6"},{"p":"A","a":"y","v":0,"s":"0"},{"p":"A","a":"y","v":-6,"s":"-6"},{"p":"A","a":"y","v":-12,"s":"-12"},{"p":"A","a":"y","v":-18,"s":"-18"},{"p":"A","a":"y","v":-24,"s":"-24"},{"p":"A","a":"y","v":-30,"s":"-30"},{"p":"A","a":"y","v":-36,"s":"-36"},
{"p":"B","a":"x","v":0,"s":"0"},{"p":"B","a":"x","v":200,"s":"200"},{"p":"B","a":"x","v":400,"s":"400"},{"p":"B","a":"x","v":600,"s":"600"},{"p":"B","a":"x","v":800,"s":"800"},{"p":"B","a":"x","v":1000,"s":"1000"},
{"p":"B","a":"y","v":5,"s":"5"},{"p":"B","a":"y","v":0,"s":"0"},{"p":"B","a":"y","v":-5,"s":"-5"},{"p":"B","a":"y","v":-10,"s":"-10"},{"p":"B","a":"y","v":-15,"s":"-15"},{"p":"B","a":"y","v":-20,"s":"-20"},{"p":"B","a":"y","v":-25,"s":"-25"},{"p":"B","a":"y","v":-30,"s":"-30"},
{"p":"C","a":"x","v":0,"s":"0"},{"p":"C","a":"x","v":200,"s":"200"},{"p":"C","a":"x","v":400,"s":"400"},{"p":"C","a":"x","v":600,"s":"600"},{"p":"C","a":"x","v":800,"s":"800"},
{"p":"C","a":"y","v":5,"s":"5"},{"p":"C","a":"y","v":0,"s":"0"},{"p":"C","a":"y","v":-5,"s":"-5"},{"p":"C","a":"y","v":-10,"s":"-10"},{"p":"C","a":"y","v":-15,"s":"-15"},{"p":"C","a":"y","v":-20,"s":"-20"},{"p":"C","a":"y","v":-25,"s":"-25"},{"p":"C","a":"y","v":-30,"s":"-30"}
],
"gx":[{"x":628},{"x":660.6},{"x":693.2},{"x":725.8},{"x":758.4},{"x":791},{"x":823.6},{"x":856.2},{"x":888.8},{"x":921.4},{"x":954},{"x":986.6},{"x":1019.2},{"x":1051.8},{"x":1084.4},{"x":1117},{"x":1149.6},{"x":1182.2},{"x":1214.8},{"x":1247.4},{"x":1280},{"x":1312.6},{"x":1345.2},{"x":1377.8},{"x":1410.4},{"x":1443},{"x":1475.6},{"x":1508.2},{"x":1540.8}],
"gy":[{"y":40},{"y":78.8},{"y":117.6},{"y":156.4},{"y":195.2},{"y":234},{"y":272.8},{"y":311.6},{"y":350.4},{"y":389.2},{"y":428},{"y":466.8},{"y":505.6},{"y":544.4},{"y":583.2},{"y":622},{"y":660.8},{"y":699.6},{"y":738.4},{"y":777.2},{"y":816},{"y":854.8},{"y":893.6},{"y":932.4},{"y":971.2},{"y":1010},{"y":1048.8},{"y":1087.6},{"y":1126.4},{"y":1165.2},{"y":1204},{"y":1242.8},{"y":1281.6},{"y":1320.4},{"y":1359.2},{"y":1398},{"y":1436.8},{"y":1475.6},{"y":1514.4},{"y":1553.2}],
"m":[
{"p":"A","x":648,"y":135,"y2":185},{"p":"A","x":675,"y":400,"y2":1560},{"p":"A","x":712,"y":1250,"y2":1560},{"p":"A","x":760,"y":210,"y2":500},{"p":"A","x":915,"y":135,"y2":185},{"p":"A","x":942,"y":400,"y2":1560},{"p":"A","x":972,"y":1250,"y2":1560},{"p":"A","x":1022,"y":210,"y2":490},{"p":"A","x":1190,"y":135,"y2":185},{"p":"A","x":1217,"y":400,"y2":1560},{"p":"A","x":1252,"y":1250,"y2":1560},{"p":"A","x":1296,"y":210,"y2":490},{"p":"A","x":1465,"y":135,"y2":185},{"p":"A","x":1490,"y":400,"y2":1560},{"p":"A","x":1528,"y":1250,"y2":1560},
{"p":"B","x":677,"y":140,"y2":1560},{"p":"B","x":703,"y":1150,"y2":1560},{"p":"B","x":757,"y":150,"y2":440},{"p":"B","x":968,"y":140,"y2":1560},{"p":"B","x":995,"y":1150,"y2":1560},{"p":"B","x":1050,"y":150,"y2":440},{"p":"B","x":1274,"y":140,"y2":1560},{"p":"B","x":1300,"y":1150,"y2":1560},{"p":"B","x":1355,"y":150,"y2":440},
{"p":"C","x":672,"y":160,"y2":1560},{"p":"C","x":697,"y":1150,"y2":1560},{"p":"C","x":765,"y":190,"y2":480},{"p":"C","x":973,"y":160,"y2":1560},{"p":"C","x":997,"y":1150,"y2":1560},{"p":"C","x":1050,"y":190,"y2":480},{"p":"C","x":1269,"y":160,"y2":1560},{"p":"C","x":1284,"y":1150,"y2":1560},{"p":"C","x":1355,"y":190,"y2":480}
],
"t":[
{"p":"A","k":"lab","s":"ECG","x":0,"y":100},{"p":"A","k":"lab","s":"Phonogram","x":0,"y":288},{"p":"A","k":"lab","s":"Carotid Artery","x":0,"y":560},{"p":"A","k":"lab","s":"Right Upper arm","x":0,"y":732},{"p":"A","k":"lab","s":"Left Upper arm","x":0,"y":885},{"p":"A","k":"lab","s":"Brachial Artery","x":0,"y":1068},{"p":"A","k":"lab","s":"Right Ankle","x":0,"y":1218},{"p":"A","k":"lab","s":"Left Ankle","x":0,"y":1440},{"p":"A","k":"let","s":"A","x":0,"y":78},
{"p":"A","k":"gls","s":"GLS: -21.2%","x":1242,"y":10.2},{"p":"A","k":"avc","s":"AVC","x":402,"y":10.2},{"p":"A","k":"dot","s":"","x":0,"y":-39.2},{"p":"A","k":"dot","s":"","x":1258,"y":-37.1},
{"p":"B","k":"lab","s":"ECG","x":0,"y":88},{"p":"B","k":"lab","s":"Phonogram","x":0,"y":282},{"p":"B","k":"lab","s":"Carotid Artery","x":0,"y":617},{"p":"B","k":"lab","s":"Right Upper arm","x":0,"y":800},{"p":"B","k":"lab","s":"Left Upper arm","x":0,"y":945},{"p":"B","k":"lab","s":"Brachial Artery","x":0,"y":1088},{"p":"B","k":"lab","s":"Right Ankle","x":0,"y":1275},{"p":"B","k":"lab","s":"Left Ankle","x":0,"y":1475},{"p":"B","k":"let","s":"B","x":0,"y":85},
{"p":"B","k":"gls","s":"GLS: -17.5%","x":867,"y":8.3},{"p":"B","k":"avc","s":"AVC","x":366,"y":8.4},{"p":"B","k":"dot","s":"","x":0,"y":-32.2},{"p":"B","k":"dot","s":"","x":873,"y":-31.9},
{"p":"B","k":"arr","s":"","x":887,"y":1023},{"p":"B","k":"arr","s":"","x":887,"y":1240},{"p":"B","k":"abi","s":"ABI: 0.72","x":1135,"y":1520},
{"p":"C","k":"lab","s":"ECG","x":0,"y":125},{"p":"C","k":"lab","s":"Phonogram","x":0,"y":318},{"p":"C","k":"lab","s":"Carotid Artery","x":0,"y":612},{"p":"C","k":"lab","s":"Upper arm","x":0,"y":770},{"p":"C","k":"lab","s":"Brachial Artery","x":0,"y":1122},{"p":"C","k":"lab","s":"Right Ankle","x":0,"y":1308},{"p":"C","k":"lab","s":"Left Ankle","x":0,"y":1500},{"p":"C","k":"let","s":"C","x":0,"y":110},
{"p":"C","k":"gls","s":"GLS: -16.3%","x":815,"y":7.55},{"p":"C","k":"avc","s":"AVC","x":383,"y":8.45},{"p":"C","k":"dot","s":"","x":0,"y":-30.7},{"p":"C","k":"dot","s":"","x":825,"y":-30.6},
{"p":"C","k":"arr","s":"","x":878,"y":948},{"p":"C","k":"arr","s":"","x":878,"y":1248},{"p":"C","k":"abi","s":"ABI: 1.14","x":1135,"y":1506}
]
},
"spacing":8,
"vconcat":[
{"spacing":0,"hconcat":[
 {"width":212,"height":523,"layer":[
  {"data":{"name":"t"},"transform":[{"filter":"datum.p=='A'&&datum.k=='lab'"}],"mark":{"type":"text","align":"right","baseline":"middle","font":"Lato","fontWeight":"bold","fontSize":25,"color":"#44546A"},
   "encoding":{"x":{"datum":562,"type":"quantitative","scale":{"domain":[0,627.5],"nice":false,"zero":false},"axis":null},"y":{"field":"y","type":"quantitative","scale":{"domain":[23.7,1571.8],"reverse":true,"nice":false,"zero":false},"axis":null},"text":{"field":"s"}}},
  {"data":{"name":"t"},"transform":[{"filter":"datum.p=='A'&&datum.k=='let'"}],"mark":{"type":"text","align":"center","baseline":"middle","font":"Lato","fontWeight":"bold","fontSize":27,"color":"#000000"},
   "encoding":{"x":{"datum":90,"type":"quantitative","axis":null},"y":{"field":"y","type":"quantitative","axis":null},"text":{"field":"s"}}}
 ]},
 {"width":313,"height":523,"view":{"fill":"#ffffff","stroke":null},"layer":[
  {"data":{"name":"gx"},"mark":{"type":"rule","color":"#c4c4c4","strokeWidth":0.8,"clip":true},"encoding":{"x":{"field":"x","type":"quantitative","scale":{"domain":[627.5,1554],"nice":false,"zero":false},"axis":null}}},
  {"data":{"name":"gy"},"mark":{"type":"rule","color":"#c4c4c4","strokeWidth":0.8,"clip":true},"encoding":{"y":{"field":"y","type":"quantitative","scale":{"domain":[23.7,1571.8],"reverse":true,"nice":false,"zero":false},"axis":null}}},
  {"data":{"name":"m"},"transform":[{"filter":"datum.p=='A'"}],"mark":{"type":"rule","color":"#8a8a8a","strokeWidth":0.8,"strokeDash":[4,3]},
   "encoding":{"x":{"field":"x","type":"quantitative","axis":null},"y":{"field":"y","type":"quantitative","axis":null},"y2":{"field":"y2"}}},
  {"data":{"name":"w"},"transform":[{"filter":"datum.p=='A'&&(datum.c=='e'||datum.c=='ph')"}],"mark":{"type":"line","color":"#111111","strokeWidth":1.1,"clip":true},
   "encoding":{"x":{"field":"x","type":"quantitative","axis":null},"y":{"field":"y","type":"quantitative","axis":null},"detail":{"field":"c"}}},
  {"data":{"name":"w"},"transform":[{"filter":"datum.p=='A'&&datum.c!='e'&&datum.c!='ph'"}],"mark":{"type":"line","color":"#111111","strokeWidth":1.4,"interpolate":"monotone","clip":true},
   "encoding":{"x":{"field":"x","type":"quantitative","axis":null},"y":{"field":"y","type":"quantitative","axis":null},"detail":{"field":"c"}}},
  {"data":{"values":[{}]},"mark":{"type":"rule","color":"#555555","strokeWidth":3,"clip":true},"encoding":{"x":{"datum":627.5,"type":"quantitative","axis":null}}},
  {"data":{"values":[{}]},"mark":{"type":"rule","color":"#555555","strokeWidth":3,"clip":true},"encoding":{"x":{"datum":1554,"type":"quantitative","axis":null}}},
  {"data":{"values":[{}]},"mark":{"type":"rule","color":"#555555","strokeWidth":3,"clip":true},"encoding":{"y":{"datum":23.7,"type":"quantitative","axis":null}}},
  {"data":{"values":[{}]},"mark":{"type":"rule","color":"#555555","strokeWidth":3,"clip":true},"encoding":{"y":{"datum":1571.8,"type":"quantitative","axis":null}}}
 ]},
 {"width":747,"height":523,"view":{"fill":"#000000","stroke":null},"resolve":{"scale":{"color":"independent"}},"layer":[
  {"data":{"name":"r"},"transform":[{"filter":"datum.p=='A'&&(datum.k=='g'||datum.k=='z')"}],"mark":{"type":"rule","strokeWidth":1.6},
   "encoding":{"x":{"field":"x","type":"quantitative","scale":{"domain":[-303,1531],"nice":false,"zero":false},"axis":null},"x2":{"field":"x2"},
    "y":{"field":"y","type":"quantitative","scale":{"domain":[-42.7,12.6],"nice":false,"zero":false},"axis":null},"y2":{"field":"y2"},
    "color":{"field":"k","type":"nominal","scale":{"domain":["g","z"],"range":["#7d7d7d","#eeeeee"]},"legend":null}}},
  {"data":{"name":"tl"},"transform":[{"filter":"datum.p=='A'&&datum.a=='x'"}],"mark":{"type":"text","color":"#c4c4c4","font":"Liberation Sans Narrow, DejaVu Sans Condensed, Roboto Condensed, Liberation Sans, sans-serif","fontSize":12,"align":"center","baseline":"middle"},
   "encoding":{"x":{"field":"v","type":"quantitative","axis":null},"y":{"datum":-37.2,"type":"quantitative","axis":null},"text":{"field":"s"}}},
  {"data":{"name":"tl"},"transform":[{"filter":"datum.p=='A'&&datum.a=='y'"}],"mark":{"type":"text","color":"#c4c4c4","font":"Liberation Sans Narrow, DejaVu Sans Condensed, Roboto Condensed, Liberation Sans, sans-serif","fontSize":12,"align":"right","baseline":"middle"},
   "encoding":{"x":{"datum":-246,"type":"quantitative","axis":null},"y":{"field":"v","type":"quantitative","axis":null},"text":{"field":"s"}}},
  {"data":{"name":"s"},"transform":[{"filter":"datum.p=='A'&&datum.c!='w'"}],"mark":{"type":"line","strokeWidth":1.8,"interpolate":"monotone"},
   "encoding":{"x":{"field":"x","type":"quantitative","axis":null},"y":{"field":"y","type":"quantitative","axis":null},
    "color":{"field":"c","type":"nominal","scale":{"domain":["y","r","b","c","m","g","l","e"],"range":["#f2f200","#e3121c","#2b8ae8","#1ed6e6","#e01ee6","#14cc14","#ada6e2","#1ccfd6"]},"legend":null}}},
  {"data":{"name":"s"},"transform":[{"filter":"datum.p=='A'&&datum.c=='w'"}],"mark":{"type":"line","color":"#ffffff","strokeWidth":2.6,"strokeDash":[2.6,4.4],"interpolate":"monotone"},
   "encoding":{"x":{"field":"x","type":"quantitative","axis":null},"y":{"field":"y","type":"quantitative","axis":null}}},
  {"data":{"name":"r"},"transform":[{"filter":"datum.p=='A'&&datum.k!='g'&&datum.k!='z'"}],"mark":{"type":"rule","strokeWidth":1.6},
   "encoding":{"x":{"field":"x","type":"quantitative","axis":null},"x2":{"field":"x2"},"y":{"field":"y","type":"quantitative","axis":null},"y2":{"field":"y2"},
    "color":{"field":"k","type":"nominal","scale":{"domain":["yl","av","tl","tk","rd"],"range":["#e6e600","#1fd01f","#116060","#e6e600","#ff2a2a"]},"legend":null}}},
  {"data":{"name":"t"},"transform":[{"filter":"datum.p=='A'&&datum.k=='dot'"}],"mark":{"type":"point","filled":true,"color":"#ffff40","size":28,"opacity":1},
   "encoding":{"x":{"field":"x","type":"quantitative","axis":null},"y":{"field":"y","type":"quantitative","axis":null}}},
  {"data":{"name":"t"},"transform":[{"filter":"datum.p=='A'&&datum.k=='gls'"}],"mark":{"type":"text","color":"#ffffff","font":"Lato","fontWeight":"bold","fontSize":23.5,"align":"center","baseline":"middle"},
   "encoding":{"x":{"field":"x","type":"quantitative","axis":null},"y":{"field":"y","type":"quantitative","axis":null},"text":{"field":"s"}}},
  {"data":{"name":"t"},"transform":[{"filter":"datum.p=='A'&&datum.k=='avc'"}],"mark":{"type":"text","color":"#22dd22","font":"Liberation Sans Narrow, DejaVu Sans Condensed, Roboto Condensed, Liberation Sans, sans-serif","fontWeight":"bold","fontSize":11,"align":"left","baseline":"middle"},
   "encoding":{"x":{"field":"x","type":"quantitative","axis":null},"y":{"field":"y","type":"quantitative","axis":null},"text":{"field":"s"}}}
 ]}
]},
{"spacing":0,"hconcat":[
 {"width":212,"height":522,"layer":[
  {"data":{"name":"t"},"transform":[{"filter":"datum.p=='B'&&datum.k=='lab'"}],"mark":{"type":"text","align":"right","baseline":"middle","font":"Lato","fontWeight":"bold","fontSize":25,"color":"#44546A"},
   "encoding":{"x":{"datum":584,"type":"quantitative","scale":{"domain":[0,627.5],"nice":false,"zero":false},"axis":null},"y":{"field":"y","type":"quantitative","scale":{"domain":[26.6,1571.8],"reverse":true,"nice":false,"zero":false},"axis":null},"text":{"field":"s"}}},
  {"data":{"name":"t"},"transform":[{"filter":"datum.p=='B'&&datum.k=='let'"}],"mark":{"type":"text","align":"center","baseline":"middle","font":"Lato","fontWeight":"bold","fontSize":27,"color":"#000000"},
   "encoding":{"x":{"datum":87,"type":"quantitative","axis":null},"y":{"field":"y","type":"quantitative","axis":null},"text":{"field":"s"}}}
 ]},
 {"width":313,"height":522,"view":{"fill":"#ffffff","stroke":null},"layer":[
  {"data":{"name":"gx"},"mark":{"type":"rule","color":"#c4c4c4","strokeWidth":0.8,"clip":true},"encoding":{"x":{"field":"x","type":"quantitative","scale":{"domain":[627.5,1554],"nice":false,"zero":false},"axis":null}}},
  {"data":{"name":"gy"},"mark":{"type":"rule","color":"#c4c4c4","strokeWidth":0.8,"clip":true},"encoding":{"y":{"field":"y","type":"quantitative","scale":{"domain":[26.6,1571.8],"reverse":true,"nice":false,"zero":false},"axis":null}}},
  {"data":{"name":"m"},"transform":[{"filter":"datum.p=='B'"}],"mark":{"type":"rule","color":"#8a8a8a","strokeWidth":0.8,"strokeDash":[4,3]},
   "encoding":{"x":{"field":"x","type":"quantitative","axis":null},"y":{"field":"y","type":"quantitative","axis":null},"y2":{"field":"y2"}}},
  {"data":{"name":"w"},"transform":[{"filter":"datum.p=='B'&&(datum.c=='e'||datum.c=='ph')"}],"mark":{"type":"line","color":"#111111","strokeWidth":1.1,"clip":true},
   "encoding":{"x":{"field":"x","type":"quantitative","axis":null},"y":{"field":"y","type":"quantitative","axis":null},"detail":{"field":"c"}}},
  {"data":{"name":"w"},"transform":[{"filter":"datum.p=='B'&&datum.c!='e'&&datum.c!='ph'"}],"mark":{"type":"line","color":"#111111","strokeWidth":1.4,"interpolate":"monotone","clip":true},
   "encoding":{"x":{"field":"x","type":"quantitative","axis":null},"y":{"field":"y","type":"quantitative","axis":null},"detail":{"field":"c"}}},
  {"data":{"name":"t"},"transform":[{"filter":"datum.p=='B'&&datum.k=='arr'"}],"mark":{"type":"point","shape":"M-1,-0.25L0.15,-0.25L0.15,-0.52L1,0L0.15,0.52L0.15,0.25L-1,0.25Z","filled":true,"color":"#C00000","size":4583,"angle":149,"opacity":1,"strokeWidth":0},
   "encoding":{"x":{"field":"x","type":"quantitative","axis":null},"y":{"field":"y","type":"quantitative","axis":null}}},
  {"data":{"name":"t"},"transform":[{"filter":"datum.p=='B'&&datum.k=='abi'"}],"mark":{"type":"text","color":"#000000","font":"Lato","fontWeight":"bold","fontSize":24,"align":"center","baseline":"middle"},
   "encoding":{"x":{"field":"x","type":"quantitative","axis":null},"y":{"field":"y","type":"quantitative","axis":null},"text":{"field":"s"}}},
  {"data":{"values":[{}]},"mark":{"type":"rule","color":"#555555","strokeWidth":3,"clip":true},"encoding":{"x":{"datum":627.5,"type":"quantitative","axis":null}}},
  {"data":{"values":[{}]},"mark":{"type":"rule","color":"#555555","strokeWidth":3,"clip":true},"encoding":{"x":{"datum":1554,"type":"quantitative","axis":null}}},
  {"data":{"values":[{}]},"mark":{"type":"rule","color":"#555555","strokeWidth":3,"clip":true},"encoding":{"y":{"datum":26.6,"type":"quantitative","axis":null}}},
  {"data":{"values":[{}]},"mark":{"type":"rule","color":"#555555","strokeWidth":3,"clip":true},"encoding":{"y":{"datum":1571.8,"type":"quantitative","axis":null}}}
 ]},
 {"width":747,"height":522,"view":{"fill":"#000000","stroke":null},"resolve":{"scale":{"color":"independent"}},"layer":[
  {"data":{"name":"r"},"transform":[{"filter":"datum.p=='B'&&(datum.k=='g'||datum.k=='z')"}],"mark":{"type":"rule","strokeWidth":1.6},
   "encoding":{"x":{"field":"x","type":"quantitative","scale":{"domain":[-205,1068],"nice":false,"zero":false},"axis":null},"x2":{"field":"x2"},
    "y":{"field":"y","type":"quantitative","scale":{"domain":[-35.24,10.43],"nice":false,"zero":false},"axis":null},"y2":{"field":"y2"},
    "color":{"field":"k","type":"nominal","scale":{"domain":["g","z"],"range":["#7d7d7d","#eeeeee"]},"legend":null}}},
  {"data":{"name":"tl"},"transform":[{"filter":"datum.p=='B'&&datum.a=='x'"}],"mark":{"type":"text","color":"#c4c4c4","font":"Liberation Sans Narrow, DejaVu Sans Condensed, Roboto Condensed, Liberation Sans, sans-serif","fontSize":12,"align":"center","baseline":"middle"},
   "encoding":{"x":{"field":"v","type":"quantitative","axis":null},"y":{"datum":-30.95,"type":"quantitative","axis":null},"text":{"field":"s"}}},
  {"data":{"name":"tl"},"transform":[{"filter":"datum.p=='B'&&datum.a=='y'"}],"mark":{"type":"text","color":"#c4c4c4","font":"Liberation Sans Narrow, DejaVu Sans Condensed, Roboto Condensed, Liberation Sans, sans-serif","fontSize":12,"align":"right","baseline":"middle"},
   "encoding":{"x":{"datum":-168,"type":"quantitative","axis":null},"y":{"field":"v","type":"quantitative","axis":null},"text":{"field":"s"}}},
  {"data":{"name":"s"},"transform":[{"filter":"datum.p=='B'&&datum.c!='w'"}],"mark":{"type":"line","strokeWidth":1.8,"interpolate":"monotone"},
   "encoding":{"x":{"field":"x","type":"quantitative","axis":null},"y":{"field":"y","type":"quantitative","axis":null},
    "color":{"field":"c","type":"nominal","scale":{"domain":["y","r","b","c","m","g","l","e"],"range":["#f2f200","#e3121c","#2b8ae8","#1ed6e6","#e01ee6","#14cc14","#ada6e2","#1ccfd6"]},"legend":null}}},
  {"data":{"name":"s"},"transform":[{"filter":"datum.p=='B'&&datum.c=='w'"}],"mark":{"type":"line","color":"#ffffff","strokeWidth":2.6,"strokeDash":[2.6,4.4],"interpolate":"monotone"},
   "encoding":{"x":{"field":"x","type":"quantitative","axis":null},"y":{"field":"y","type":"quantitative","axis":null}}},
  {"data":{"name":"r"},"transform":[{"filter":"datum.p=='B'&&datum.k!='g'&&datum.k!='z'"}],"mark":{"type":"rule","strokeWidth":1.6},
   "encoding":{"x":{"field":"x","type":"quantitative","axis":null},"x2":{"field":"x2"},"y":{"field":"y","type":"quantitative","axis":null},"y2":{"field":"y2"},
    "color":{"field":"k","type":"nominal","scale":{"domain":["yl","av","tl","tk","rd"],"range":["#e6e600","#1fd01f","#116060","#e6e600","#ff2a2a"]},"legend":null}}},
  {"data":{"name":"t"},"transform":[{"filter":"datum.p=='B'&&datum.k=='dot'"}],"mark":{"type":"point","filled":true,"color":"#ffff40","size":28,"opacity":1},
   "encoding":{"x":{"field":"x","type":"quantitative","axis":null},"y":{"field":"y","type":"quantitative","axis":null}}},
  {"data":{"name":"t"},"transform":[{"filter":"datum.p=='B'&&datum.k=='gls'"}],"mark":{"type":"text","color":"#ffffff","font":"Lato","fontWeight":"bold","fontSize":23.5,"align":"center","baseline":"middle"},
   "encoding":{"x":{"field":"x","type":"quantitative","axis":null},"y":{"field":"y","type":"quantitative","axis":null},"text":{"field":"s"}}},
  {"data":{"name":"t"},"transform":[{"filter":"datum.p=='B'&&datum.k=='avc'"}],"mark":{"type":"text","color":"#22dd22","font":"Liberation Sans Narrow, DejaVu Sans Condensed, Roboto Condensed, Liberation Sans, sans-serif","fontWeight":"bold","fontSize":11,"align":"left","baseline":"middle"},
   "encoding":{"x":{"field":"x","type":"quantitative","axis":null},"y":{"field":"y","type":"quantitative","axis":null},"text":{"field":"s"}}}
 ]}
]},
{"spacing":0,"hconcat":[
 {"width":212,"height":516,"layer":[
  {"data":{"name":"t"},"transform":[{"filter":"datum.p=='C'&&datum.k=='lab'"}],"mark":{"type":"text","align":"right","baseline":"middle","font":"Lato","fontWeight":"bold","fontSize":25,"color":"#44546A"},
   "encoding":{"x":{"datum":584,"type":"quantitative","scale":{"domain":[0,627.5],"nice":false,"zero":false},"axis":null},"y":{"field":"y","type":"quantitative","scale":{"domain":[41.4,1568.8],"reverse":true,"nice":false,"zero":false},"axis":null},"text":{"field":"s"}}},
  {"data":{"name":"t"},"transform":[{"filter":"datum.p=='C'&&datum.k=='let'"}],"mark":{"type":"text","align":"center","baseline":"middle","font":"Lato","fontWeight":"bold","fontSize":27,"color":"#000000"},
   "encoding":{"x":{"datum":90,"type":"quantitative","axis":null},"y":{"field":"y","type":"quantitative","axis":null},"text":{"field":"s"}}}
 ]},
 {"width":313,"height":516,"view":{"fill":"#ffffff","stroke":null},"layer":[
  {"data":{"name":"gx"},"mark":{"type":"rule","color":"#c4c4c4","strokeWidth":0.8,"clip":true},"encoding":{"x":{"field":"x","type":"quantitative","scale":{"domain":[627.5,1554],"nice":false,"zero":false},"axis":null}}},
  {"data":{"name":"gy"},"mark":{"type":"rule","color":"#c4c4c4","strokeWidth":0.8,"clip":true},"encoding":{"y":{"field":"y","type":"quantitative","scale":{"domain":[41.4,1568.8],"reverse":true,"nice":false,"zero":false},"axis":null}}},
  {"data":{"name":"m"},"transform":[{"filter":"datum.p=='C'"}],"mark":{"type":"rule","color":"#8a8a8a","strokeWidth":0.8,"strokeDash":[4,3]},
   "encoding":{"x":{"field":"x","type":"quantitative","axis":null},"y":{"field":"y","type":"quantitative","axis":null},"y2":{"field":"y2"}}},
  {"data":{"name":"w"},"transform":[{"filter":"datum.p=='C'&&(datum.c=='e'||datum.c=='ph')"}],"mark":{"type":"line","color":"#111111","strokeWidth":1.1,"clip":true},
   "encoding":{"x":{"field":"x","type":"quantitative","axis":null},"y":{"field":"y","type":"quantitative","axis":null},"detail":{"field":"c"}}},
  {"data":{"name":"w"},"transform":[{"filter":"datum.p=='C'&&datum.c!='e'&&datum.c!='ph'"}],"mark":{"type":"line","color":"#111111","strokeWidth":1.4,"interpolate":"monotone","clip":true},
   "encoding":{"x":{"field":"x","type":"quantitative","axis":null},"y":{"field":"y","type":"quantitative","axis":null},"detail":{"field":"c"}}},
  {"data":{"name":"t"},"transform":[{"filter":"datum.p=='C'&&datum.k=='arr'"}],"mark":{"type":"point","shape":"M-1,-0.25L0.15,-0.25L0.15,-0.52L1,0L0.15,0.52L0.15,0.25L-1,0.25Z","filled":true,"color":"#5B9BD5","size":4583,"angle":149,"opacity":1,"strokeWidth":0},
   "encoding":{"x":{"field":"x","type":"quantitative","axis":null},"y":{"field":"y","type":"quantitative","axis":null}}},
  {"data":{"name":"t"},"transform":[{"filter":"datum.p=='C'&&datum.k=='abi'"}],"mark":{"type":"text","color":"#000000","font":"Lato","fontWeight":"bold","fontSize":23,"align":"center","baseline":"middle"},
   "encoding":{"x":{"field":"x","type":"quantitative","axis":null},"y":{"field":"y","type":"quantitative","axis":null},"text":{"field":"s"}}},
  {"data":{"values":[{}]},"mark":{"type":"rule","color":"#555555","strokeWidth":3,"clip":true},"encoding":{"x":{"datum":627.5,"type":"quantitative","axis":null}}},
  {"data":{"values":[{}]},"mark":{"type":"rule","color":"#555555","strokeWidth":3,"clip":true},"encoding":{"x":{"datum":1554,"type":"quantitative","axis":null}}},
  {"data":{"values":[{}]},"mark":{"type":"rule","color":"#555555","strokeWidth":3,"clip":true},"encoding":{"y":{"datum":41.4,"type":"quantitative","axis":null}}},
  {"data":{"values":[{}]},"mark":{"type":"rule","color":"#555555","strokeWidth":3,"clip":true},"encoding":{"y":{"datum":1568.8,"type":"quantitative","axis":null}}}
 ]},
 {"width":747,"height":516,"view":{"fill":"#000000","stroke":null},"resolve":{"scale":{"color":"independent"}},"layer":[
  {"data":{"name":"r"},"transform":[{"filter":"datum.p=='C'&&(datum.k=='g'||datum.k=='z')"}],"mark":{"type":"rule","strokeWidth":1.6},
   "encoding":{"x":{"field":"x","type":"quantitative","scale":{"domain":[-193,1006],"nice":false,"zero":false},"axis":null},"x2":{"field":"x2"},
    "y":{"field":"y","type":"quantitative","scale":{"domain":[-34.65,10.5],"nice":false,"zero":false},"axis":null},"y2":{"field":"y2"},
    "color":{"field":"k","type":"nominal","scale":{"domain":["g","z"],"range":["#7d7d7d","#eeeeee"]},"legend":null}}},
  {"data":{"name":"tl"},"transform":[{"filter":"datum.p=='C'&&datum.a=='x'"}],"mark":{"type":"text","color":"#c4c4c4","font":"Liberation Sans Narrow, DejaVu Sans Condensed, Roboto Condensed, Liberation Sans, sans-serif","fontSize":12,"align":"center","baseline":"middle"},
   "encoding":{"x":{"field":"v","type":"quantitative","axis":null},"y":{"datum":-30.9,"type":"quantitative","axis":null},"text":{"field":"s"}}},
  {"data":{"name":"tl"},"transform":[{"filter":"datum.p=='C'&&datum.a=='y'"}],"mark":{"type":"text","color":"#c4c4c4","font":"Liberation Sans Narrow, DejaVu Sans Condensed, Roboto Condensed, Liberation Sans, sans-serif","fontSize":12,"align":"right","baseline":"middle"},
   "encoding":{"x":{"datum":-156,"type":"quantitative","axis":null},"y":{"field":"v","type":"quantitative","axis":null},"text":{"field":"s"}}},
  {"data":{"name":"s"},"transform":[{"filter":"datum.p=='C'&&datum.c!='w'"}],"mark":{"type":"line","strokeWidth":1.8,"interpolate":"monotone"},
   "encoding":{"x":{"field":"x","type":"quantitative","axis":null},"y":{"field":"y","type":"quantitative","axis":null},
    "color":{"field":"c","type":"nominal","scale":{"domain":["y","r","b","c","m","g","l","e"],"range":["#f2f200","#e3121c","#2b8ae8","#1ed6e6","#e01ee6","#14cc14","#ada6e2","#1ccfd6"]},"legend":null}}},
  {"data":{"name":"s"},"transform":[{"filter":"datum.p=='C'&&datum.c=='w'"}],"mark":{"type":"line","color":"#ffffff","strokeWidth":2.6,"strokeDash":[2.6,4.4],"interpolate":"monotone"},
   "encoding":{"x":{"field":"x","type":"quantitative","axis":null},"y":{"field":"y","type":"quantitative","axis":null}}},
  {"data":{"name":"r"},"transform":[{"filter":"datum.p=='C'&&datum.k!='g'&&datum.k!='z'"}],"mark":{"type":"rule","strokeWidth":1.6},
   "encoding":{"x":{"field":"x","type":"quantitative","axis":null},"x2":{"field":"x2"},"y":{"field":"y","type":"quantitative","axis":null},"y2":{"field":"y2"},
    "color":{"field":"k","type":"nominal","scale":{"domain":["yl","av","tl","tk","rd"],"range":["#e6e600","#1fd01f","#116060","#e6e600","#ff2a2a"]},"legend":null}}},
  {"data":{"name":"t"},"transform":[{"filter":"datum.p=='C'&&datum.k=='dot'"}],"mark":{"type":"point","filled":true,"color":"#ffff40","size":28,"opacity":1},
   "encoding":{"x":{"field":"x","type":"quantitative","axis":null},"y":{"field":"y","type":"quantitative","axis":null}}},
  {"data":{"name":"t"},"transform":[{"filter":"datum.p=='C'&&datum.k=='gls'"}],"mark":{"type":"text","color":"#ffffff","font":"Lato","fontWeight":"bold","fontSize":23.5,"align":"center","baseline":"middle"},
   "encoding":{"x":{"field":"x","type":"quantitative","axis":null},"y":{"field":"y","type":"quantitative","axis":null},"text":{"field":"s"}}},
  {"data":{"name":"t"},"transform":[{"filter":"datum.p=='C'&&datum.k=='avc'"}],"mark":{"type":"text","color":"#22dd22","font":"Liberation Sans Narrow, DejaVu Sans Condensed, Roboto Condensed, Liberation Sans, sans-serif","fontWeight":"bold","fontSize":11,"align":"left","baseline":"middle"},
   "encoding":{"x":{"field":"x","type":"quantitative","axis":null},"y":{"field":"y","type":"quantitative","axis":null},"text":{"field":"s"}}}
 ]}
]}
]
}
